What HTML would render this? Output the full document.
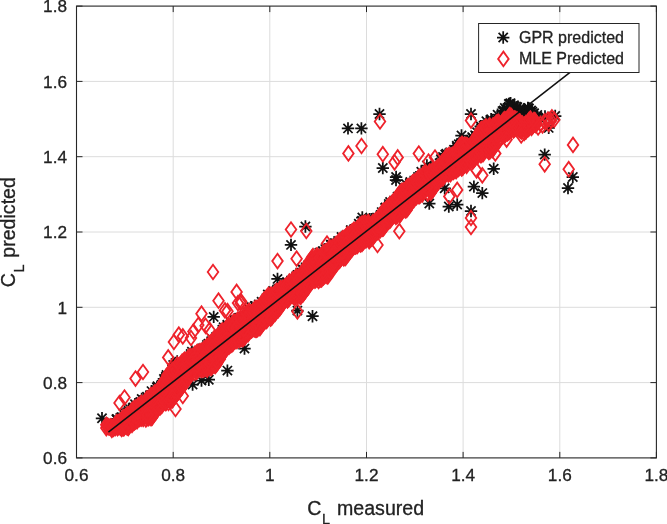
<!DOCTYPE html><html><head><meta charset="utf-8"><title>CL predicted vs measured</title>
<style>html,body{margin:0;padding:0;background:#fff}svg{display:block}text{font-family:"Liberation Sans",sans-serif;fill:#222;stroke:#222;stroke-width:0.3px}</style></head><body>
<svg width="667" height="524" viewBox="0 0 667 524">
<rect width="667" height="524" fill="#fff"/>
<path d="M173.2 6.1V457.9M76.5 382.6H656.4M269.8 6.1V457.9M76.5 307.3H656.4M366.5 6.1V457.9M76.5 232.0H656.4M463.1 6.1V457.9M76.5 156.7H656.4M559.8 6.1V457.9M76.5 81.4H656.4" stroke="#dcdcdc" stroke-width="1" fill="none"/>
<defs>
<path id="d" d="M0-7.3L5.3 0L0 7.3L-5.3 0Z" fill="none" stroke="#ee222b" stroke-width="1.8"/>
<path id="s" d="M0-6.2V6.2M-6.2 0H6.2M-4.6-4.6L4.6 4.6M-4.6 4.6L4.6-4.6" fill="none" stroke="#111" stroke-width="1.75"/>
</defs>
<g><use href="#s" x="102.0" y="418.3"/><use href="#s" x="213.7" y="316.9"/><use href="#s" x="192.6" y="384.6"/><use href="#s" x="201.5" y="380.6"/><use href="#s" x="208.8" y="379.7"/><use href="#s" x="227.4" y="370.6"/><use href="#s" x="244.5" y="348.6"/><use href="#s" x="305.4" y="226.5"/><use href="#s" x="291.0" y="244.9"/><use href="#s" x="277.5" y="278.9"/><use href="#s" x="297.4" y="310.6"/><use href="#s" x="312.5" y="316.2"/><use href="#s" x="396.0" y="180.0"/><use href="#s" x="429.3" y="203.5"/><use href="#s" x="362.3" y="217.5"/><use href="#s" x="471.0" y="114.0"/><use href="#s" x="544.7" y="154.6"/><use href="#s" x="493.7" y="168.8"/><use href="#s" x="473.9" y="186.6"/><use href="#s" x="482.3" y="193.1"/><use href="#s" x="457.2" y="204.5"/><use href="#s" x="448.8" y="206.5"/><use href="#s" x="471.0" y="211.0"/><use href="#s" x="572.8" y="177.0"/><use href="#s" x="568.0" y="188.0"/><use href="#s" x="461.5" y="135.5"/><use href="#s" x="444.7" y="188.3"/><use href="#s" x="426.9" y="165.5"/><use href="#s" x="348.0" y="128.4"/><use href="#s" x="361.4" y="128.4"/><use href="#s" x="379.5" y="114.0"/><use href="#s" x="382.8" y="168.0"/><use href="#s" x="396.1" y="177.0"/><use href="#s" x="116.4" y="419.3"/><use href="#s" x="129.6" y="408.6"/><use href="#s" x="135.0" y="404.3"/><use href="#s" x="151.5" y="391.1"/><use href="#s" x="157.5" y="386.3"/><use href="#s" x="173.2" y="364.9"/><use href="#s" x="227.3" y="324.8"/><use href="#s" x="230.8" y="322.1"/><use href="#s" x="249.0" y="309.0"/><use href="#s" x="251.6" y="307.3"/><use href="#s" x="267.8" y="294.4"/><use href="#s" x="273.0" y="290.9"/><use href="#s" x="281.1" y="286.8"/><use href="#s" x="301.6" y="268.6"/><use href="#s" x="319.4" y="252.7"/><use href="#s" x="322.8" y="251.1"/><use href="#s" x="325.3" y="249.1"/><use href="#s" x="330.9" y="244.8"/><use href="#s" x="350.9" y="230.1"/><use href="#s" x="362.0" y="220.8"/><use href="#s" x="373.0" y="218.9"/><use href="#s" x="381.7" y="212.1"/><use href="#s" x="385.1" y="207.9"/><use href="#s" x="390.1" y="202.0"/><use href="#s" x="410.3" y="181.9"/><use href="#s" x="421.3" y="171.8"/><use href="#s" x="440.9" y="159.3"/><use href="#s" x="446.3" y="153.6"/><use href="#s" x="454.0" y="149.8"/><use href="#s" x="458.8" y="144.2"/><use href="#s" x="467.3" y="140.9"/><use href="#s" x="469.6" y="141.3"/><use href="#s" x="472.2" y="137.1"/><use href="#s" x="477.1" y="132.3"/><use href="#s" x="480.7" y="126.3"/><use href="#s" x="486.4" y="121.2"/><use href="#s" x="491.1" y="119.3"/><use href="#s" x="502.5" y="111.1"/><use href="#s" x="504.8" y="108.0"/><use href="#s" x="510.6" y="103.3"/><use href="#s" x="514.0" y="105.2"/><use href="#s" x="517.3" y="107.1"/><use href="#s" x="520.4" y="109.2"/><use href="#s" x="524.4" y="111.8"/><use href="#s" x="528.2" y="108.4"/><use href="#s" x="534.1" y="113.3"/><use href="#s" x="446.1" y="158.2"/><use href="#s" x="115.4" y="425.2"/><use href="#s" x="125.8" y="413.3"/><use href="#s" x="285.4" y="299.5"/><use href="#s" x="255.1" y="316.0"/><use href="#s" x="323.1" y="259.3"/><use href="#s" x="481.0" y="128.3"/><use href="#s" x="263.0" y="303.9"/><use href="#s" x="202.6" y="348.5"/><use href="#s" x="377.0" y="223.7"/><use href="#s" x="389.4" y="205.1"/><use href="#s" x="256.8" y="308.1"/><use href="#s" x="480.4" y="130.4"/><use href="#s" x="238.5" y="318.2"/><use href="#s" x="359.4" y="227.3"/><use href="#s" x="412.9" y="186.7"/><use href="#s" x="375.8" y="227.5"/><use href="#s" x="525.0" y="110.6"/><use href="#s" x="491.7" y="121.8"/><use href="#s" x="354.4" y="239.2"/><use href="#s" x="109.5" y="427.3"/><use href="#s" x="287.6" y="283.8"/><use href="#s" x="445.2" y="154.6"/><use href="#s" x="293.7" y="278.7"/><use href="#s" x="425.5" y="180.5"/><use href="#s" x="463.4" y="148.2"/><use href="#s" x="378.3" y="231.4"/><use href="#s" x="291.0" y="294.7"/><use href="#s" x="233.3" y="327.1"/><use href="#s" x="304.4" y="277.2"/><use href="#s" x="369.7" y="219.1"/><use href="#s" x="273.1" y="305.1"/><use href="#s" x="301.4" y="274.2"/><use href="#s" x="214.4" y="350.9"/><use href="#s" x="120.8" y="429.3"/><use href="#s" x="230.0" y="330.7"/><use href="#s" x="481.9" y="138.6"/><use href="#s" x="453.4" y="152.7"/><use href="#s" x="164.3" y="389.5"/><use href="#s" x="358.3" y="228.5"/><use href="#s" x="284.9" y="290.6"/><use href="#s" x="486.2" y="134.4"/><use href="#s" x="300.5" y="283.0"/><use href="#s" x="469.0" y="145.9"/><use href="#s" x="188.2" y="362.9"/><use href="#s" x="126.2" y="423.9"/><use href="#s" x="258.3" y="311.4"/><use href="#s" x="155.3" y="403.7"/><use href="#s" x="365.0" y="220.5"/><use href="#s" x="457.6" y="148.3"/><use href="#s" x="262.1" y="316.3"/><use href="#s" x="139.7" y="406.5"/><use href="#s" x="526.5" y="115.0"/><use href="#s" x="364.7" y="220.4"/><use href="#s" x="166.5" y="374.9"/><use href="#s" x="528.4" y="123.0"/><use href="#s" x="268.0" y="299.8"/><use href="#s" x="385.7" y="215.1"/><use href="#s" x="179.9" y="366.6"/><use href="#s" x="151.3" y="408.5"/><use href="#s" x="195.8" y="364.4"/><use href="#s" x="336.8" y="248.9"/><use href="#s" x="272.7" y="306.0"/><use href="#s" x="297.5" y="275.0"/><use href="#s" x="280.3" y="288.1"/><use href="#s" x="241.2" y="318.7"/><use href="#s" x="246.1" y="324.8"/><use href="#s" x="384.2" y="223.3"/><use href="#s" x="281.5" y="301.7"/><use href="#s" x="176.1" y="371.7"/><use href="#s" x="336.2" y="248.6"/><use href="#s" x="519.9" y="124.9"/><use href="#s" x="373.8" y="235.2"/><use href="#s" x="235.8" y="324.0"/><use href="#s" x="234.0" y="330.5"/><use href="#s" x="191.9" y="351.7"/><use href="#s" x="183.7" y="365.6"/><use href="#s" x="208.4" y="343.6"/><use href="#s" x="409.7" y="184.1"/><use href="#s" x="510.8" y="118.9"/><use href="#s" x="520.1" y="123.4"/><use href="#s" x="223.6" y="327.3"/><use href="#s" x="141.7" y="399.0"/><use href="#s" x="262.9" y="306.6"/><use href="#s" x="427.0" y="174.8"/><use href="#s" x="139.4" y="407.8"/><use href="#s" x="411.2" y="191.5"/><use href="#s" x="430.5" y="170.1"/><use href="#s" x="262.8" y="313.2"/><use href="#s" x="487.6" y="125.2"/><use href="#s" x="134.1" y="408.5"/><use href="#s" x="453.5" y="163.0"/><use href="#s" x="165.9" y="376.8"/><use href="#s" x="293.2" y="284.5"/><use href="#s" x="258.8" y="304.6"/><use href="#s" x="279.3" y="296.9"/><use href="#s" x="469.5" y="148.2"/><use href="#s" x="194.3" y="364.3"/><use href="#s" x="308.3" y="265.1"/><use href="#s" x="338.1" y="240.9"/><use href="#s" x="112.2" y="425.1"/><use href="#s" x="147.0" y="396.7"/><use href="#s" x="271.7" y="308.8"/><use href="#s" x="210.7" y="347.2"/><use href="#s" x="188.0" y="367.1"/><use href="#s" x="319.9" y="263.2"/><use href="#s" x="298.2" y="275.6"/><use href="#s" x="278.7" y="296.1"/><use href="#s" x="115.3" y="426.9"/><use href="#s" x="206.5" y="355.0"/><use href="#s" x="531.1" y="110.4"/><use href="#s" x="129.0" y="418.7"/><use href="#s" x="371.6" y="225.9"/><use href="#s" x="358.8" y="237.9"/><use href="#s" x="209.3" y="347.5"/><use href="#s" x="443.0" y="156.9"/><use href="#s" x="415.6" y="181.1"/><use href="#s" x="230.1" y="336.4"/><use href="#s" x="454.7" y="155.6"/><use href="#s" x="440.4" y="162.6"/><use href="#s" x="378.6" y="224.7"/><use href="#s" x="528.4" y="122.3"/><use href="#s" x="340.0" y="242.0"/><use href="#s" x="180.2" y="375.7"/><use href="#s" x="147.7" y="398.8"/><use href="#s" x="358.8" y="223.8"/><use href="#s" x="529.2" y="117.6"/><use href="#s" x="494.3" y="125.3"/><use href="#s" x="406.2" y="184.3"/><use href="#s" x="479.5" y="141.7"/><use href="#s" x="327.0" y="259.0"/><use href="#s" x="200.4" y="351.5"/><use href="#s" x="283.0" y="299.0"/><use href="#s" x="534.3" y="121.7"/><use href="#s" x="164.6" y="387.3"/><use href="#s" x="234.5" y="319.4"/><use href="#s" x="286.4" y="284.1"/><use href="#s" x="211.2" y="341.2"/><use href="#s" x="321.8" y="260.4"/><use href="#s" x="205.8" y="355.9"/><use href="#s" x="220.1" y="334.2"/><use href="#s" x="292.4" y="284.1"/><use href="#s" x="261.5" y="310.7"/><use href="#s" x="517.2" y="114.1"/><use href="#s" x="156.5" y="396.1"/><use href="#s" x="346.6" y="241.5"/><use href="#s" x="217.1" y="341.0"/><use href="#s" x="249.7" y="318.4"/><use href="#s" x="261.6" y="301.8"/><use href="#s" x="163.9" y="378.9"/><use href="#s" x="355.1" y="237.7"/><use href="#s" x="277.9" y="302.6"/><use href="#s" x="489.4" y="128.7"/><use href="#s" x="206.9" y="344.9"/><use href="#s" x="323.6" y="262.0"/><use href="#s" x="275.4" y="301.1"/><use href="#s" x="430.5" y="167.8"/><use href="#s" x="270.1" y="303.2"/><use href="#s" x="470.1" y="142.1"/><use href="#s" x="399.7" y="196.4"/><use href="#s" x="345.7" y="238.9"/><use href="#s" x="222.2" y="333.0"/><use href="#s" x="147.5" y="411.9"/><use href="#s" x="480.5" y="137.3"/><use href="#s" x="163.8" y="391.7"/><use href="#s" x="337.8" y="250.6"/><use href="#s" x="199.6" y="363.1"/><use href="#s" x="116.9" y="425.8"/><use href="#s" x="296.5" y="290.1"/><use href="#s" x="359.2" y="232.5"/><use href="#s" x="298.8" y="283.2"/><use href="#s" x="517.4" y="111.7"/><use href="#s" x="307.2" y="270.1"/><use href="#s" x="362.3" y="234.6"/><use href="#s" x="455.6" y="152.9"/><use href="#s" x="198.3" y="364.3"/><use href="#s" x="173.8" y="377.3"/><use href="#s" x="343.1" y="239.8"/><use href="#s" x="214.2" y="340.2"/><use href="#s" x="368.5" y="228.7"/><use href="#s" x="142.4" y="408.3"/><use href="#s" x="154.6" y="405.4"/><use href="#s" x="493.4" y="122.0"/><use href="#s" x="399.9" y="198.1"/><use href="#s" x="162.5" y="388.4"/><use href="#s" x="533.6" y="119.1"/><use href="#s" x="456.8" y="147.0"/><use href="#s" x="132.7" y="408.0"/><use href="#s" x="448.8" y="166.5"/><use href="#s" x="181.9" y="365.5"/><use href="#s" x="496.0" y="126.3"/><use href="#s" x="286.0" y="299.6"/><use href="#s" x="456.8" y="145.8"/><use href="#s" x="371.4" y="227.8"/><use href="#s" x="370.9" y="228.5"/><use href="#s" x="464.8" y="153.3"/><use href="#s" x="147.1" y="410.7"/><use href="#s" x="319.6" y="266.0"/><use href="#s" x="199.2" y="353.6"/><use href="#s" x="300.5" y="287.4"/><use href="#s" x="534.6" y="123.3"/><use href="#s" x="242.4" y="320.7"/><use href="#s" x="200.0" y="361.0"/><use href="#s" x="388.7" y="216.1"/><use href="#s" x="287.0" y="281.9"/><use href="#s" x="261.5" y="305.7"/><use href="#s" x="276.1" y="294.5"/><use href="#s" x="258.5" y="319.5"/><use href="#s" x="117.7" y="424.0"/><use href="#s" x="356.6" y="230.2"/><use href="#s" x="401.9" y="201.9"/><use href="#s" x="264.0" y="310.0"/><use href="#s" x="238.0" y="324.0"/><use href="#s" x="472.6" y="137.8"/><use href="#s" x="349.7" y="239.3"/><use href="#s" x="450.5" y="154.1"/><use href="#s" x="402.3" y="197.8"/><use href="#s" x="499.7" y="128.4"/><use href="#s" x="474.1" y="143.2"/><use href="#s" x="229.2" y="337.5"/><use href="#s" x="289.1" y="285.2"/><use href="#s" x="255.0" y="321.3"/><use href="#s" x="163.3" y="391.2"/><use href="#s" x="411.5" y="194.3"/><use href="#s" x="393.7" y="212.8"/><use href="#s" x="117.1" y="427.5"/><use href="#s" x="426.2" y="173.1"/><use href="#s" x="296.2" y="276.2"/><use href="#s" x="398.9" y="205.9"/><use href="#s" x="175.4" y="378.3"/><use href="#s" x="309.7" y="273.4"/><use href="#s" x="356.6" y="238.1"/><use href="#s" x="243.3" y="319.8"/><use href="#s" x="278.1" y="304.3"/><use href="#s" x="215.7" y="349.5"/><use href="#s" x="416.8" y="193.4"/><use href="#s" x="490.3" y="129.3"/><use href="#s" x="501.4" y="121.7"/><use href="#s" x="254.8" y="306.0"/><use href="#s" x="193.3" y="353.0"/><use href="#s" x="232.7" y="335.9"/><use href="#s" x="491.4" y="135.5"/><use href="#s" x="408.3" y="193.0"/><use href="#s" x="359.7" y="231.6"/><use href="#s" x="317.1" y="268.2"/><use href="#s" x="160.3" y="396.1"/><use href="#s" x="318.1" y="266.4"/><use href="#s" x="126.9" y="425.0"/><use href="#s" x="166.1" y="377.7"/><use href="#s" x="405.0" y="200.9"/><use href="#s" x="446.4" y="157.9"/><use href="#s" x="496.8" y="124.8"/><use href="#s" x="470.1" y="150.9"/><use href="#s" x="329.9" y="254.5"/><use href="#s" x="447.7" y="167.7"/><use href="#s" x="308.9" y="268.1"/><use href="#s" x="358.4" y="230.0"/><use href="#s" x="151.5" y="405.6"/><use href="#s" x="190.7" y="353.9"/><use href="#s" x="319.3" y="264.8"/><use href="#s" x="370.2" y="230.9"/><use href="#s" x="226.4" y="329.6"/><use href="#s" x="278.5" y="288.6"/><use href="#s" x="514.8" y="106.6"/><use href="#s" x="388.8" y="203.9"/><use href="#s" x="374.3" y="230.0"/><use href="#s" x="117.1" y="420.0"/><use href="#s" x="297.1" y="286.1"/><use href="#s" x="167.1" y="378.6"/><use href="#s" x="335.7" y="248.7"/><use href="#s" x="140.3" y="402.0"/><use href="#s" x="389.2" y="208.9"/><use href="#s" x="371.0" y="223.1"/><use href="#s" x="256.1" y="308.1"/><use href="#s" x="439.5" y="177.0"/><use href="#s" x="516.8" y="107.5"/><use href="#s" x="155.2" y="405.4"/><use href="#s" x="439.1" y="172.5"/><use href="#s" x="127.1" y="417.8"/><use href="#s" x="310.9" y="270.7"/><use href="#s" x="261.1" y="310.9"/><use href="#s" x="117.0" y="428.0"/><use href="#s" x="506.6" y="109.9"/><use href="#s" x="301.2" y="285.6"/><use href="#s" x="500.4" y="124.7"/><use href="#s" x="222.4" y="329.6"/><use href="#s" x="496.5" y="122.2"/><use href="#s" x="368.9" y="225.4"/><use href="#s" x="393.1" y="203.0"/><use href="#s" x="454.7" y="159.1"/><use href="#s" x="472.9" y="142.9"/><use href="#s" x="392.7" y="204.2"/><use href="#s" x="115.6" y="424.2"/><use href="#s" x="286.7" y="285.5"/><use href="#s" x="314.0" y="260.8"/><use href="#s" x="123.3" y="413.7"/><use href="#s" x="310.0" y="268.3"/><use href="#s" x="144.9" y="400.1"/><use href="#s" x="247.3" y="318.2"/><use href="#s" x="142.9" y="414.4"/><use href="#s" x="203.0" y="358.5"/><use href="#s" x="413.6" y="194.2"/><use href="#s" x="376.8" y="225.6"/><use href="#s" x="344.6" y="237.4"/><use href="#s" x="351.3" y="237.2"/><use href="#s" x="477.1" y="136.7"/><use href="#s" x="351.3" y="241.6"/><use href="#s" x="222.9" y="345.6"/><use href="#s" x="475.1" y="135.3"/><use href="#s" x="407.7" y="186.9"/><use href="#s" x="191.2" y="368.4"/><use href="#s" x="492.7" y="122.0"/><use href="#s" x="209.4" y="358.4"/><use href="#s" x="374.0" y="226.5"/><use href="#s" x="380.6" y="214.9"/><use href="#s" x="359.7" y="239.5"/><use href="#s" x="243.2" y="317.9"/><use href="#s" x="390.4" y="213.5"/><use href="#s" x="425.7" y="178.9"/><use href="#s" x="328.5" y="261.3"/><use href="#s" x="491.9" y="120.8"/><use href="#s" x="497.6" y="114.7"/><use href="#s" x="200.0" y="352.1"/><use href="#s" x="390.7" y="205.2"/><use href="#s" x="287.0" y="293.0"/><use href="#s" x="519.3" y="117.2"/><use href="#s" x="353.8" y="229.4"/><use href="#s" x="379.5" y="228.3"/><use href="#s" x="492.6" y="123.4"/><use href="#s" x="142.1" y="402.3"/><use href="#s" x="526.7" y="119.7"/><use href="#s" x="214.1" y="347.9"/><use href="#s" x="413.5" y="189.0"/><use href="#s" x="527.9" y="108.0"/><use href="#s" x="279.7" y="302.7"/><use href="#s" x="268.3" y="300.2"/><use href="#s" x="436.7" y="167.6"/><use href="#s" x="449.5" y="161.2"/><use href="#s" x="505.9" y="116.0"/><use href="#s" x="213.6" y="355.4"/><use href="#s" x="330.9" y="244.7"/><use href="#s" x="267.6" y="308.7"/><use href="#s" x="156.9" y="387.4"/><use href="#s" x="349.0" y="243.1"/><use href="#s" x="418.0" y="177.0"/><use href="#s" x="422.7" y="186.3"/><use href="#s" x="249.8" y="324.8"/><use href="#s" x="186.2" y="360.8"/><use href="#s" x="271.7" y="305.2"/><use href="#s" x="372.9" y="221.6"/><use href="#s" x="483.5" y="132.4"/><use href="#s" x="450.0" y="159.1"/><use href="#s" x="516.8" y="123.7"/><use href="#s" x="153.2" y="403.8"/><use href="#s" x="371.6" y="219.2"/><use href="#s" x="239.1" y="317.6"/><use href="#s" x="149.9" y="396.0"/><use href="#s" x="130.1" y="412.7"/><use href="#s" x="285.9" y="290.7"/><use href="#s" x="406.9" y="192.9"/><use href="#s" x="308.5" y="276.8"/><use href="#s" x="216.1" y="337.0"/><use href="#s" x="342.1" y="246.5"/><use href="#s" x="338.2" y="242.4"/><use href="#s" x="508.0" y="112.7"/><use href="#s" x="385.6" y="207.5"/><use href="#s" x="459.4" y="153.9"/><use href="#s" x="503.7" y="110.5"/><use href="#s" x="151.9" y="404.8"/><use href="#s" x="408.7" y="186.3"/><use href="#s" x="402.6" y="193.1"/><use href="#s" x="181.5" y="373.8"/><use href="#s" x="371.5" y="230.7"/><use href="#s" x="177.2" y="361.5"/><use href="#s" x="467.5" y="151.0"/><use href="#s" x="529.0" y="108.4"/><use href="#s" x="288.9" y="293.3"/><use href="#s" x="416.6" y="180.1"/><use href="#s" x="350.8" y="241.3"/><use href="#s" x="157.5" y="399.4"/><use href="#s" x="508.8" y="103.9"/><use href="#s" x="175.4" y="363.0"/><use href="#s" x="369.7" y="222.7"/><use href="#s" x="460.0" y="146.6"/><use href="#s" x="426.5" y="176.5"/><use href="#s" x="378.1" y="220.6"/><use href="#s" x="172.1" y="368.8"/><use href="#s" x="318.6" y="256.4"/><use href="#s" x="487.5" y="137.5"/><use href="#s" x="436.9" y="174.7"/><use href="#s" x="126.9" y="420.4"/><use href="#s" x="144.1" y="399.9"/><use href="#s" x="285.2" y="299.1"/><use href="#s" x="367.5" y="220.1"/><use href="#s" x="326.7" y="259.6"/><use href="#s" x="384.3" y="222.6"/><use href="#s" x="141.5" y="416.6"/><use href="#s" x="486.3" y="137.5"/><use href="#s" x="235.2" y="334.5"/><use href="#s" x="156.6" y="396.2"/><use href="#s" x="350.4" y="238.4"/><use href="#s" x="323.3" y="265.5"/><use href="#s" x="429.0" y="168.2"/><use href="#s" x="483.6" y="125.7"/><use href="#s" x="493.2" y="134.1"/><use href="#s" x="283.4" y="291.3"/><use href="#s" x="175.0" y="377.7"/><use href="#s" x="496.3" y="126.7"/><use href="#s" x="144.5" y="410.6"/><use href="#s" x="352.5" y="234.7"/><use href="#s" x="454.7" y="157.4"/><use href="#s" x="347.8" y="244.5"/><use href="#s" x="179.9" y="371.7"/><use href="#s" x="128.6" y="410.8"/><use href="#s" x="237.1" y="328.3"/><use href="#s" x="303.0" y="278.3"/><use href="#s" x="166.9" y="383.9"/><use href="#s" x="392.7" y="208.8"/><use href="#s" x="248.3" y="314.7"/><use href="#s" x="223.0" y="341.5"/><use href="#s" x="280.5" y="288.6"/><use href="#s" x="286.1" y="288.3"/><use href="#s" x="266.6" y="300.5"/><use href="#s" x="341.5" y="237.0"/><use href="#s" x="532.3" y="111.8"/><use href="#s" x="243.8" y="317.8"/><use href="#s" x="133.2" y="411.6"/><use href="#s" x="479.9" y="143.0"/><use href="#s" x="209.6" y="349.3"/><use href="#s" x="177.6" y="371.3"/><use href="#s" x="292.3" y="284.4"/><use href="#s" x="410.0" y="195.6"/><use href="#s" x="128.2" y="424.0"/><use href="#s" x="529.9" y="118.5"/><use href="#s" x="436.1" y="167.0"/><use href="#s" x="529.3" y="115.3"/><use href="#s" x="371.8" y="222.4"/><use href="#s" x="396.2" y="199.7"/><use href="#s" x="519.6" y="123.6"/><use href="#s" x="401.9" y="201.5"/><use href="#s" x="511.8" y="113.1"/><use href="#s" x="179.5" y="372.3"/><use href="#s" x="199.1" y="362.0"/><use href="#s" x="232.0" y="337.9"/><use href="#s" x="484.6" y="135.5"/><use href="#s" x="520.2" y="107.9"/><use href="#s" x="507.4" y="118.4"/><use href="#s" x="486.1" y="135.0"/><use href="#s" x="467.9" y="155.0"/><use href="#s" x="316.9" y="269.8"/><use href="#s" x="274.2" y="303.4"/><use href="#s" x="455.5" y="150.1"/><use href="#s" x="177.3" y="377.1"/><use href="#s" x="403.5" y="192.0"/><use href="#s" x="447.5" y="159.4"/><use href="#s" x="417.7" y="183.8"/><use href="#s" x="513.4" y="118.4"/><use href="#s" x="149.0" y="406.7"/><use href="#s" x="350.8" y="230.5"/><use href="#s" x="255.6" y="319.9"/><use href="#s" x="302.9" y="269.4"/><use href="#s" x="328.1" y="248.2"/><use href="#s" x="150.0" y="396.5"/><use href="#s" x="470.0" y="153.6"/><use href="#s" x="429.1" y="182.2"/><use href="#s" x="362.3" y="231.9"/><use href="#s" x="196.2" y="360.9"/><use href="#s" x="286.7" y="285.4"/><use href="#s" x="250.7" y="324.7"/><use href="#s" x="287.3" y="292.9"/><use href="#s" x="431.9" y="171.7"/><use href="#s" x="174.2" y="380.3"/><use href="#s" x="519.8" y="114.5"/><use href="#s" x="419.9" y="182.2"/><use href="#s" x="373.8" y="220.7"/><use href="#s" x="461.0" y="143.0"/><use href="#s" x="430.0" y="184.6"/><use href="#s" x="137.7" y="416.1"/><use href="#s" x="121.8" y="417.1"/><use href="#s" x="387.1" y="218.3"/><use href="#s" x="397.6" y="196.6"/><use href="#s" x="485.3" y="125.4"/><use href="#s" x="308.8" y="276.0"/><use href="#s" x="282.8" y="289.6"/><use href="#s" x="233.5" y="323.5"/><use href="#s" x="509.8" y="103.6"/><use href="#s" x="116.9" y="419.0"/><use href="#s" x="445.8" y="162.3"/><use href="#s" x="332.2" y="247.0"/><use href="#s" x="433.2" y="181.7"/><use href="#s" x="421.6" y="177.5"/><use href="#s" x="330.0" y="249.7"/><use href="#s" x="152.2" y="404.4"/><use href="#s" x="212.5" y="339.1"/><use href="#s" x="196.6" y="353.4"/><use href="#s" x="149.2" y="403.3"/><use href="#s" x="218.4" y="339.9"/><use href="#s" x="548.7" y="127.9"/><use href="#s" x="540.5" y="119.0"/><use href="#s" x="555.2" y="116.0"/><use href="#s" x="537.3" y="114.9"/><use href="#s" x="545.0" y="116.5"/></g>
<path d="M104.9 425.3L106.9 425.3L108.9 425.3L110.9 424.8L112.9 423.8L114.9 422.6L116.9 421.4L118.9 420.2L120.9 418.6L122.9 416.8L124.9 415.0L126.9 413.2L128.9 411.5L130.9 409.9L132.9 408.3L134.9 406.8L136.9 405.3L138.9 403.9L140.9 402.5L142.9 401.1L144.9 399.4L146.9 397.6L148.9 395.8L150.9 394.0L152.9 392.5L154.9 391.1L156.9 389.5L158.9 386.5L160.9 383.1L162.9 379.3L164.9 375.6L166.9 372.7L168.9 371.0L170.9 369.3L172.9 367.5L174.9 365.9L176.9 364.3L178.9 362.7L180.9 361.0L182.9 359.8L184.9 358.6L186.9 357.4L188.9 356.1L190.9 354.9L192.9 353.7L194.9 352.5L196.9 351.3L198.9 350.1L200.9 349.0L202.9 347.8L204.9 346.6L206.9 343.9L208.9 342.7L210.9 341.5L212.9 340.3L214.9 338.4L216.9 336.0L218.9 333.6L220.9 331.2L222.9 329.2L224.9 327.6L226.9 326.0L228.9 324.4L230.9 322.9L232.9 321.4L234.9 320.0L236.9 318.5L238.9 317.1L240.9 315.7L242.9 314.3L244.9 312.9L246.9 311.4L248.9 310.0L250.9 308.5L252.9 307.6L254.9 306.8L256.9 306.0L258.9 305.3L260.9 303.0L262.9 300.4L264.9 297.8L266.9 295.2L268.9 293.8L270.9 292.8L272.9 291.8L274.9 290.8L276.9 289.8L278.9 288.8L280.9 287.8L282.9 286.8L284.9 285.2L286.9 283.2L288.9 281.2L290.9 279.2L292.9 277.4L294.9 275.8L296.9 274.2L298.9 272.6L300.9 270.5L302.9 267.8L304.9 265.1L306.9 262.5L308.9 260.2L310.9 257.9L312.9 255.5L314.9 254.3L316.9 254.0L318.9 253.7L320.9 253.3L322.9 251.9L324.9 250.3L326.9 248.7L328.9 247.1L330.9 245.7L332.9 244.3L334.9 242.9L336.9 241.5L338.9 240.0L340.9 238.4L342.9 236.8L344.9 235.3L346.9 233.8L348.9 232.4L350.9 231.0L352.9 229.6L354.9 227.9L356.9 226.1L358.9 224.3L360.9 222.5L362.9 221.5L364.9 221.1L366.9 220.7L368.9 220.3L370.9 220.0L372.9 219.8L374.9 219.6L376.9 218.8L378.9 215.6L380.9 212.3L382.9 209.0L384.9 206.9L386.9 205.4L388.9 203.8L390.9 202.2L392.9 200.0L394.9 197.7L396.9 195.3L398.9 193.0L400.9 190.9L402.9 188.9L404.9 187.0L406.9 185.0L408.9 183.6L410.9 182.4L412.9 181.1L414.9 179.9L416.9 177.9L418.9 175.5L420.9 175.7L422.9 173.3L424.9 172.1L426.9 171.7L428.9 171.3L430.9 170.9L432.9 169.8L434.9 168.2L436.9 166.6L438.9 165.0L440.9 162.8L442.9 159.9L444.9 157.0L446.9 154.6L448.9 154.3L450.9 154.0L452.9 153.6L454.9 151.8L456.9 148.6L458.9 145.5L460.9 142.4L462.9 142.6L464.9 143.4L466.9 144.2L468.9 144.9L470.9 142.6L472.9 139.4L474.9 136.2L476.9 133.0L478.9 130.9L480.9 129.1L482.9 127.3L484.9 125.5L486.9 124.4L488.9 123.6L490.9 124.7L492.9 123.9L494.9 122.7L496.9 121.3L498.9 119.9L500.9 121.5L502.9 118.9L504.9 116.2L506.9 116.6L508.9 113.9L510.9 114.9L512.9 116.0L514.9 117.1L516.9 118.2L518.9 119.6L520.9 120.9L522.9 122.2L524.9 122.8L526.9 121.0L528.9 119.2L530.9 117.7L532.9 115.2L534.9 118.6L534.9 126.6L532.9 127.8L530.9 129.2L528.9 130.6L526.9 132.0L524.9 133.4L522.9 133.0L520.9 131.8L518.9 130.7L516.9 129.7L514.9 130.7L512.9 131.7L510.9 132.7L508.9 133.7L506.9 135.1L504.9 136.6L502.9 138.1L500.9 139.6L498.9 142.6L496.9 145.6L494.9 148.6L492.9 150.7L490.9 151.5L488.9 152.4L486.9 153.2L484.9 154.1L482.9 155.3L480.9 156.5L478.9 157.6L476.9 158.9L474.9 160.5L472.9 162.1L470.9 163.7L468.9 165.2L466.9 166.5L464.9 167.7L462.9 168.9L460.9 170.1L458.9 171.1L456.9 172.2L454.9 173.2L452.9 174.2L450.9 175.1L448.9 175.9L446.9 176.8L444.9 177.9L442.9 179.1L440.9 180.2L438.9 182.4L436.9 185.6L434.9 188.8L432.9 192.0L430.9 194.0L428.9 194.4L426.9 194.8L424.9 195.2L422.9 195.8L420.9 196.8L418.9 197.8L416.9 198.8L414.9 200.4L412.9 203.0L410.9 205.5L408.9 208.1L406.9 210.4L404.9 212.0L402.9 213.6L400.9 215.2L398.9 216.7L396.9 217.5L394.9 218.3L392.9 219.1L390.9 220.2L388.9 222.5L386.9 224.9L384.9 227.3L382.9 229.5L380.9 231.1L378.9 232.7L376.9 234.3L374.9 236.5L372.9 239.2L370.9 241.9L368.9 243.5L366.9 243.9L364.9 244.3L362.9 244.7L360.9 245.4L358.9 246.7L356.9 247.9L354.9 249.1L352.9 250.7L350.9 252.9L348.9 255.1L346.9 257.3L344.9 259.1L342.9 260.3L340.9 261.5L338.9 262.7L336.9 264.4L334.9 267.6L332.9 270.8L330.9 274.0L328.9 276.7L326.9 278.0L324.9 279.2L322.9 280.4L320.9 281.4L318.9 281.6L316.9 281.7L314.9 281.9L312.9 283.1L310.9 285.6L308.9 288.0L306.9 290.5L304.9 292.8L302.9 295.0L300.9 297.2L298.9 298.4L296.9 298.6L294.9 298.7L292.9 298.9L290.9 299.6L288.9 300.8L286.9 302.0L284.9 303.3L282.9 305.0L280.9 307.7L278.9 310.3L276.9 312.8L274.9 315.3L272.9 317.8L270.9 319.5L268.9 320.8L266.9 322.3L264.9 324.3L262.9 326.3L260.9 328.3L258.9 330.0L256.9 330.4L254.9 330.8L252.9 331.2L250.9 331.9L248.9 334.3L246.9 336.7L244.9 339.1L242.9 341.4L240.9 341.9L238.9 342.4L236.9 342.9L234.9 344.1L232.9 345.5L230.9 346.9L228.9 348.6L226.9 350.6L224.9 352.7L222.9 357.3L220.9 360.8L218.9 363.0L216.9 365.2L214.9 367.4L212.9 368.9L210.9 369.5L208.9 370.1L206.9 370.7L204.9 371.2L202.9 371.4L200.9 371.6L198.9 371.8L196.9 372.3L194.9 374.0L192.9 375.7L190.9 377.3L188.9 379.0L186.9 381.2L184.9 384.2L182.9 387.2L180.9 390.2L178.9 392.9L176.9 395.6L174.9 398.3L172.9 400.5L170.9 402.2L168.9 403.9L166.9 405.7L164.9 406.6L162.9 407.4L160.9 408.1L158.9 409.8L156.9 412.5L154.9 415.2L152.9 417.9L150.9 419.6L148.9 420.0L146.9 420.4L144.9 420.8L142.9 421.3L140.9 422.1L138.9 422.9L136.9 423.7L134.9 424.6L132.9 425.8L130.9 427.0L128.9 428.2L126.9 429.1L124.9 429.3L122.9 429.5L120.9 429.7L118.9 429.9L116.9 429.7L114.9 429.5L112.9 429.3L110.9 429.0L108.9 428.6L106.9 428.3L104.9 427.9Z" fill="#ee222b"/>
<g><use href="#d" x="106.3" y="428.1"/><use href="#d" x="111.8" y="429.8"/><use href="#d" x="117.5" y="423.9"/><use href="#d" x="121.3" y="423.5"/><use href="#d" x="125.6" y="416.1"/><use href="#d" x="130.8" y="412.8"/><use href="#d" x="135.4" y="411.7"/><use href="#d" x="138.1" y="407.2"/><use href="#d" x="141.3" y="404.0"/><use href="#d" x="145.5" y="403.2"/><use href="#d" x="150.0" y="398.1"/><use href="#d" x="155.9" y="393.2"/><use href="#d" x="160.5" y="387.1"/><use href="#d" x="165.1" y="380.4"/><use href="#d" x="167.2" y="376.8"/><use href="#d" x="169.5" y="372.3"/><use href="#d" x="172.2" y="369.9"/><use href="#d" x="176.6" y="369.8"/><use href="#d" x="180.5" y="364.2"/><use href="#d" x="184.8" y="360.4"/><use href="#d" x="188.9" y="360.4"/><use href="#d" x="192.1" y="356.0"/><use href="#d" x="196.7" y="354.2"/><use href="#d" x="201.4" y="351.5"/><use href="#d" x="207.4" y="348.9"/><use href="#d" x="209.7" y="344.5"/><use href="#d" x="212.9" y="342.1"/><use href="#d" x="217.0" y="337.7"/><use href="#d" x="219.3" y="338.4"/><use href="#d" x="221.7" y="332.0"/><use href="#d" x="227.1" y="328.7"/><use href="#d" x="229.4" y="325.8"/><use href="#d" x="234.8" y="321.9"/><use href="#d" x="237.6" y="319.8"/><use href="#d" x="241.5" y="319.6"/><use href="#d" x="245.1" y="314.6"/><use href="#d" x="249.3" y="311.5"/><use href="#d" x="254.5" y="309.3"/><use href="#d" x="257.8" y="308.0"/><use href="#d" x="261.1" y="305.5"/><use href="#d" x="266.2" y="297.9"/><use href="#d" x="268.7" y="298.2"/><use href="#d" x="271.1" y="294.5"/><use href="#d" x="275.0" y="293.6"/><use href="#d" x="277.7" y="292.7"/><use href="#d" x="280.4" y="291.4"/><use href="#d" x="283.2" y="291.0"/><use href="#d" x="288.3" y="284.6"/><use href="#d" x="292.8" y="279.3"/><use href="#d" x="296.4" y="276.4"/><use href="#d" x="298.4" y="278.3"/><use href="#d" x="304.3" y="271.2"/><use href="#d" x="308.7" y="262.3"/><use href="#d" x="311.5" y="259.9"/><use href="#d" x="317.5" y="257.2"/><use href="#d" x="322.1" y="254.4"/><use href="#d" x="324.2" y="252.7"/><use href="#d" x="327.1" y="250.9"/><use href="#d" x="329.1" y="250.2"/><use href="#d" x="332.5" y="246.9"/><use href="#d" x="336.0" y="244.0"/><use href="#d" x="338.4" y="243.7"/><use href="#d" x="342.9" y="238.6"/><use href="#d" x="347.3" y="235.8"/><use href="#d" x="351.8" y="232.1"/><use href="#d" x="357.6" y="228.3"/><use href="#d" x="363.0" y="223.3"/><use href="#d" x="368.4" y="222.2"/><use href="#d" x="372.9" y="222.1"/><use href="#d" x="378.6" y="221.4"/><use href="#d" x="383.0" y="214.1"/><use href="#d" x="385.8" y="210.5"/><use href="#d" x="390.3" y="206.0"/><use href="#d" x="393.1" y="202.6"/><use href="#d" x="398.6" y="196.6"/><use href="#d" x="400.9" y="192.7"/><use href="#d" x="403.3" y="190.3"/><use href="#d" x="407.4" y="186.8"/><use href="#d" x="410.3" y="187.0"/><use href="#d" x="413.9" y="183.3"/><use href="#d" x="419.2" y="178.5"/><use href="#d" x="423.2" y="176.2"/><use href="#d" x="425.9" y="176.2"/><use href="#d" x="431.8" y="172.5"/><use href="#d" x="434.7" y="171.7"/><use href="#d" x="439.3" y="168.0"/><use href="#d" x="443.8" y="160.9"/><use href="#d" x="446.6" y="156.5"/><use href="#d" x="451.6" y="155.7"/><use href="#d" x="454.7" y="154.9"/><use href="#d" x="457.7" y="149.2"/><use href="#d" x="460.4" y="146.0"/><use href="#d" x="464.5" y="145.0"/><use href="#d" x="466.9" y="145.9"/><use href="#d" x="472.4" y="142.4"/><use href="#d" x="477.1" y="137.5"/><use href="#d" x="481.2" y="130.7"/><use href="#d" x="485.5" y="126.8"/><use href="#d" x="489.4" y="125.6"/><use href="#d" x="494.2" y="125.0"/><use href="#d" x="496.3" y="126.0"/><use href="#d" x="498.6" y="121.9"/><use href="#d" x="503.5" y="120.4"/><use href="#d" x="506.1" y="119.5"/><use href="#d" x="508.4" y="117.9"/><use href="#d" x="511.8" y="117.2"/><use href="#d" x="517.4" y="122.9"/><use href="#d" x="522.4" y="123.7"/><use href="#d" x="527.6" y="122.7"/><use href="#d" x="531.0" y="122.1"/><use href="#d" x="534.9" y="120.4"/><use href="#d" x="106.3" y="424.8"/><use href="#d" x="110.9" y="426.3"/><use href="#d" x="115.3" y="426.2"/><use href="#d" x="117.6" y="427.9"/><use href="#d" x="122.1" y="427.3"/><use href="#d" x="127.6" y="424.7"/><use href="#d" x="131.0" y="422.7"/><use href="#d" x="135.7" y="421.3"/><use href="#d" x="139.5" y="417.4"/><use href="#d" x="143.7" y="417.7"/><use href="#d" x="148.7" y="418.2"/><use href="#d" x="151.9" y="417.4"/><use href="#d" x="155.8" y="412.1"/><use href="#d" x="161.7" y="406.0"/><use href="#d" x="165.7" y="403.0"/><use href="#d" x="170.3" y="399.9"/><use href="#d" x="173.3" y="398.3"/><use href="#d" x="176.8" y="393.9"/><use href="#d" x="181.5" y="387.5"/><use href="#d" x="185.6" y="377.9"/><use href="#d" x="191.2" y="372.8"/><use href="#d" x="196.9" y="369.5"/><use href="#d" x="202.5" y="369.1"/><use href="#d" x="206.1" y="368.7"/><use href="#d" x="208.9" y="367.3"/><use href="#d" x="214.1" y="362.9"/><use href="#d" x="219.8" y="359.2"/><use href="#d" x="223.3" y="352.6"/><use href="#d" x="229.0" y="346.7"/><use href="#d" x="231.5" y="343.7"/><use href="#d" x="234.9" y="338.8"/><use href="#d" x="237.1" y="341.0"/><use href="#d" x="242.9" y="339.1"/><use href="#d" x="248.2" y="333.3"/><use href="#d" x="252.0" y="329.0"/><use href="#d" x="257.7" y="324.9"/><use href="#d" x="261.4" y="323.5"/><use href="#d" x="265.4" y="319.5"/><use href="#d" x="268.7" y="315.7"/><use href="#d" x="274.1" y="313.1"/><use href="#d" x="277.9" y="309.8"/><use href="#d" x="283.2" y="302.4"/><use href="#d" x="288.7" y="299.1"/><use href="#d" x="293.4" y="296.6"/><use href="#d" x="297.7" y="296.2"/><use href="#d" x="302.3" y="292.4"/><use href="#d" x="304.3" y="291.6"/><use href="#d" x="308.0" y="287.4"/><use href="#d" x="310.1" y="281.3"/><use href="#d" x="313.1" y="277.5"/><use href="#d" x="315.7" y="280.0"/><use href="#d" x="321.6" y="279.3"/><use href="#d" x="325.4" y="274.5"/><use href="#d" x="329.6" y="271.3"/><use href="#d" x="334.8" y="266.0"/><use href="#d" x="339.5" y="260.5"/><use href="#d" x="344.8" y="256.9"/><use href="#d" x="347.5" y="254.8"/><use href="#d" x="352.6" y="247.8"/><use href="#d" x="357.4" y="245.8"/><use href="#d" x="360.3" y="240.5"/><use href="#d" x="363.7" y="240.2"/><use href="#d" x="369.5" y="240.1"/><use href="#d" x="373.9" y="232.5"/><use href="#d" x="376.6" y="229.2"/><use href="#d" x="381.8" y="228.6"/><use href="#d" x="384.1" y="224.0"/><use href="#d" x="387.7" y="221.2"/><use href="#d" x="391.5" y="215.4"/><use href="#d" x="397.0" y="215.6"/><use href="#d" x="400.5" y="212.2"/><use href="#d" x="405.1" y="208.5"/><use href="#d" x="410.3" y="204.0"/><use href="#d" x="414.2" y="197.0"/><use href="#d" x="420.1" y="195.4"/><use href="#d" x="425.0" y="189.8"/><use href="#d" x="430.2" y="189.8"/><use href="#d" x="432.7" y="190.1"/><use href="#d" x="438.3" y="181.6"/><use href="#d" x="444.2" y="175.0"/><use href="#d" x="450.1" y="173.1"/><use href="#d" x="453.1" y="169.8"/><use href="#d" x="458.6" y="169.0"/><use href="#d" x="462.6" y="167.3"/><use href="#d" x="466.3" y="163.5"/><use href="#d" x="470.0" y="162.1"/><use href="#d" x="474.0" y="159.4"/><use href="#d" x="476.9" y="153.6"/><use href="#d" x="479.1" y="152.2"/><use href="#d" x="481.3" y="152.9"/><use href="#d" x="484.6" y="149.0"/><use href="#d" x="490.3" y="149.0"/><use href="#d" x="492.9" y="147.4"/><use href="#d" x="498.5" y="140.0"/><use href="#d" x="503.8" y="133.1"/><use href="#d" x="507.6" y="131.9"/><use href="#d" x="511.9" y="127.9"/><use href="#d" x="514.2" y="129.2"/><use href="#d" x="518.0" y="126.9"/><use href="#d" x="521.2" y="127.7"/><use href="#d" x="525.4" y="131.2"/><use href="#d" x="529.5" y="124.8"/><use href="#d" x="535.1" y="124.2"/><use href="#d" x="346.2" y="246.3"/><use href="#d" x="358.6" y="235.4"/><use href="#d" x="347.5" y="241.8"/><use href="#d" x="223.6" y="341.0"/><use href="#d" x="158.3" y="396.6"/><use href="#d" x="318.9" y="260.0"/><use href="#d" x="187.9" y="372.7"/><use href="#d" x="189.1" y="357.4"/><use href="#d" x="415.7" y="183.4"/><use href="#d" x="263.2" y="317.8"/><use href="#d" x="148.1" y="417.0"/><use href="#d" x="156.3" y="402.1"/><use href="#d" x="215.1" y="339.7"/><use href="#d" x="343.6" y="245.7"/><use href="#d" x="272.6" y="301.6"/><use href="#d" x="193.8" y="368.7"/><use href="#d" x="393.3" y="210.2"/><use href="#d" x="491.1" y="142.6"/><use href="#d" x="493.7" y="126.1"/><use href="#d" x="514.8" y="118.8"/><use href="#d" x="209.9" y="365.4"/><use href="#d" x="482.4" y="138.4"/><use href="#d" x="285.0" y="300.1"/><use href="#d" x="332.3" y="268.8"/><use href="#d" x="331.0" y="267.6"/><use href="#d" x="353.4" y="240.1"/><use href="#d" x="184.7" y="359.8"/><use href="#d" x="312.3" y="281.1"/><use href="#d" x="250.1" y="319.7"/><use href="#d" x="336.7" y="250.6"/><use href="#d" x="183.2" y="371.3"/><use href="#d" x="439.7" y="169.8"/><use href="#d" x="389.2" y="209.8"/><use href="#d" x="375.5" y="227.8"/><use href="#d" x="474.3" y="145.5"/><use href="#d" x="419.2" y="196.2"/><use href="#d" x="451.6" y="161.0"/><use href="#d" x="257.0" y="317.0"/><use href="#d" x="393.5" y="213.3"/><use href="#d" x="406.0" y="192.1"/><use href="#d" x="403.1" y="203.8"/><use href="#d" x="344.9" y="243.0"/><use href="#d" x="422.2" y="194.6"/><use href="#d" x="382.7" y="227.6"/><use href="#d" x="217.8" y="345.2"/><use href="#d" x="352.7" y="240.6"/><use href="#d" x="173.4" y="382.2"/><use href="#d" x="177.6" y="378.9"/><use href="#d" x="534.3" y="120.5"/><use href="#d" x="342.0" y="252.9"/><use href="#d" x="267.9" y="299.0"/><use href="#d" x="401.0" y="205.3"/><use href="#d" x="230.2" y="343.6"/><use href="#d" x="171.9" y="396.8"/><use href="#d" x="297.3" y="285.3"/><use href="#d" x="432.1" y="180.8"/><use href="#d" x="386.8" y="213.7"/><use href="#d" x="303.4" y="287.7"/><use href="#d" x="309.3" y="263.7"/><use href="#d" x="367.5" y="229.2"/><use href="#d" x="457.5" y="161.0"/><use href="#d" x="437.4" y="167.0"/><use href="#d" x="460.4" y="161.9"/><use href="#d" x="265.0" y="301.7"/><use href="#d" x="414.7" y="192.6"/><use href="#d" x="371.8" y="234.9"/><use href="#d" x="224.4" y="337.9"/><use href="#d" x="139.6" y="418.8"/><use href="#d" x="353.0" y="244.7"/><use href="#d" x="271.4" y="305.0"/><use href="#d" x="196.7" y="356.5"/><use href="#d" x="471.8" y="156.5"/><use href="#d" x="294.9" y="278.3"/><use href="#d" x="472.1" y="146.9"/><use href="#d" x="249.4" y="323.4"/><use href="#d" x="296.4" y="281.6"/><use href="#d" x="359.2" y="234.7"/><use href="#d" x="414.9" y="183.2"/><use href="#d" x="197.9" y="367.0"/><use href="#d" x="137.5" y="407.8"/><use href="#d" x="433.1" y="187.7"/><use href="#d" x="264.3" y="320.8"/><use href="#d" x="425.9" y="186.0"/><use href="#d" x="519.7" y="124.1"/><use href="#d" x="469.0" y="148.4"/><use href="#d" x="245.9" y="321.1"/><use href="#d" x="214.0" y="347.9"/><use href="#d" x="267.9" y="302.2"/><use href="#d" x="281.7" y="293.3"/><use href="#d" x="189.5" y="369.5"/><use href="#d" x="466.2" y="156.9"/><use href="#d" x="484.3" y="142.9"/><use href="#d" x="181.1" y="386.6"/><use href="#d" x="504.8" y="119.1"/><use href="#d" x="110.1" y="427.1"/><use href="#d" x="350.0" y="245.2"/><use href="#d" x="138.8" y="417.9"/><use href="#d" x="166.0" y="401.3"/><use href="#d" x="398.2" y="195.9"/><use href="#d" x="201.2" y="369.9"/><use href="#d" x="339.6" y="260.6"/><use href="#d" x="281.2" y="292.0"/><use href="#d" x="326.8" y="265.0"/><use href="#d" x="431.2" y="190.1"/><use href="#d" x="520.4" y="123.8"/><use href="#d" x="479.6" y="150.5"/><use href="#d" x="492.2" y="150.1"/><use href="#d" x="340.7" y="257.9"/><use href="#d" x="468.6" y="152.4"/><use href="#d" x="193.8" y="361.3"/><use href="#d" x="127.1" y="415.3"/><use href="#d" x="152.7" y="411.3"/><use href="#d" x="128.6" y="418.8"/><use href="#d" x="184.7" y="360.3"/><use href="#d" x="208.1" y="365.7"/><use href="#d" x="184.9" y="362.7"/><use href="#d" x="179.2" y="388.8"/><use href="#d" x="243.2" y="329.7"/><use href="#d" x="475.5" y="146.9"/><use href="#d" x="520.1" y="121.9"/><use href="#d" x="321.7" y="255.2"/><use href="#d" x="468.2" y="151.1"/><use href="#d" x="342.4" y="249.5"/><use href="#d" x="402.1" y="191.9"/><use href="#d" x="270.7" y="318.4"/><use href="#d" x="427.7" y="187.0"/><use href="#d" x="247.8" y="313.8"/><use href="#d" x="499.4" y="132.7"/><use href="#d" x="222.4" y="345.5"/><use href="#d" x="169.1" y="399.9"/><use href="#d" x="488.8" y="151.8"/><use href="#d" x="137.8" y="406.5"/><use href="#d" x="320.6" y="266.1"/><use href="#d" x="493.9" y="128.8"/><use href="#d" x="462.7" y="152.4"/><use href="#d" x="479.7" y="131.7"/><use href="#d" x="349.6" y="244.0"/><use href="#d" x="172.3" y="400.1"/><use href="#d" x="243.0" y="320.0"/><use href="#d" x="134.8" y="409.5"/><use href="#d" x="314.6" y="277.1"/><use href="#d" x="265.2" y="318.3"/><use href="#d" x="148.5" y="404.1"/><use href="#d" x="481.2" y="148.9"/><use href="#d" x="426.2" y="173.6"/><use href="#d" x="359.2" y="233.8"/><use href="#d" x="383.0" y="211.8"/><use href="#d" x="272.7" y="306.6"/><use href="#d" x="237.0" y="324.4"/><use href="#d" x="280.2" y="304.2"/><use href="#d" x="217.8" y="336.6"/><use href="#d" x="436.1" y="171.4"/><use href="#d" x="534.2" y="123.7"/><use href="#d" x="432.6" y="175.2"/><use href="#d" x="411.4" y="201.2"/><use href="#d" x="182.6" y="369.8"/><use href="#d" x="484.5" y="144.0"/><use href="#d" x="141.3" y="402.8"/><use href="#d" x="523.0" y="125.9"/><use href="#d" x="335.0" y="260.8"/><use href="#d" x="277.3" y="294.8"/><use href="#d" x="284.1" y="301.2"/><use href="#d" x="403.3" y="205.1"/><use href="#d" x="257.2" y="323.9"/><use href="#d" x="148.7" y="403.3"/><use href="#d" x="334.0" y="267.7"/><use href="#d" x="479.2" y="148.6"/><use href="#d" x="172.7" y="396.7"/><use href="#d" x="514.9" y="125.2"/><use href="#d" x="261.9" y="314.5"/><use href="#d" x="165.1" y="400.6"/><use href="#d" x="138.2" y="405.4"/><use href="#d" x="364.9" y="240.0"/><use href="#d" x="265.9" y="308.4"/><use href="#d" x="349.7" y="245.3"/><use href="#d" x="357.4" y="228.1"/><use href="#d" x="475.6" y="151.4"/><use href="#d" x="210.6" y="358.7"/><use href="#d" x="481.7" y="129.1"/><use href="#d" x="402.5" y="194.2"/><use href="#d" x="408.4" y="205.5"/><use href="#d" x="275.3" y="306.2"/><use href="#d" x="191.6" y="364.5"/><use href="#d" x="165.6" y="385.0"/><use href="#d" x="338.8" y="242.8"/><use href="#d" x="361.0" y="227.7"/><use href="#d" x="315.9" y="264.3"/><use href="#d" x="386.6" y="221.8"/><use href="#d" x="448.3" y="174.3"/><use href="#d" x="287.9" y="289.6"/><use href="#d" x="341.6" y="250.4"/><use href="#d" x="436.3" y="180.1"/><use href="#d" x="445.5" y="160.0"/><use href="#d" x="157.1" y="398.8"/><use href="#d" x="330.9" y="255.4"/><use href="#d" x="123.8" y="428.1"/><use href="#d" x="341.8" y="239.7"/><use href="#d" x="240.7" y="324.7"/><use href="#d" x="201.8" y="369.1"/><use href="#d" x="156.8" y="402.6"/><use href="#d" x="212.0" y="346.5"/><use href="#d" x="282.5" y="291.6"/><use href="#d" x="241.4" y="328.5"/><use href="#d" x="317.1" y="255.6"/><use href="#d" x="485.0" y="133.5"/><use href="#d" x="192.7" y="369.6"/><use href="#d" x="433.5" y="173.6"/><use href="#d" x="202.5" y="352.5"/><use href="#d" x="183.1" y="362.4"/><use href="#d" x="405.3" y="210.5"/><use href="#d" x="271.1" y="312.6"/><use href="#d" x="506.4" y="129.3"/><use href="#d" x="205.1" y="350.1"/><use href="#d" x="525.8" y="131.5"/><use href="#d" x="227.1" y="343.5"/><use href="#d" x="302.3" y="283.3"/><use href="#d" x="375.5" y="221.1"/><use href="#d" x="215.2" y="365.6"/><use href="#d" x="140.0" y="405.6"/><use href="#d" x="447.2" y="156.5"/><use href="#d" x="228.2" y="339.0"/><use href="#d" x="312.1" y="280.8"/><use href="#d" x="329.7" y="247.4"/><use href="#d" x="355.4" y="243.2"/><use href="#d" x="265.2" y="317.1"/><use href="#d" x="459.8" y="158.1"/><use href="#d" x="414.4" y="191.4"/><use href="#d" x="302.3" y="293.3"/><use href="#d" x="461.4" y="168.0"/><use href="#d" x="208.3" y="356.2"/><use href="#d" x="201.6" y="363.0"/><use href="#d" x="374.2" y="235.4"/><use href="#d" x="108.1" y="426.8"/><use href="#d" x="299.7" y="282.8"/><use href="#d" x="361.4" y="235.2"/><use href="#d" x="463.7" y="145.3"/><use href="#d" x="167.1" y="380.1"/><use href="#d" x="385.4" y="217.5"/><use href="#d" x="221.6" y="349.1"/><use href="#d" x="178.8" y="367.1"/><use href="#d" x="173.3" y="392.5"/><use href="#d" x="481.8" y="154.0"/><use href="#d" x="128.0" y="417.8"/><use href="#d" x="267.4" y="296.5"/><use href="#d" x="324.9" y="275.9"/><use href="#d" x="309.2" y="284.0"/><use href="#d" x="280.5" y="291.2"/><use href="#d" x="450.7" y="172.8"/><use href="#d" x="205.6" y="348.0"/><use href="#d" x="353.5" y="230.5"/><use href="#d" x="267.2" y="301.7"/><use href="#d" x="118.1" y="423.0"/><use href="#d" x="257.6" y="325.5"/><use href="#d" x="497.2" y="136.6"/><use href="#d" x="507.3" y="124.3"/><use href="#d" x="275.1" y="313.7"/><use href="#d" x="198.9" y="355.5"/><use href="#d" x="184.3" y="374.0"/><use href="#d" x="175.2" y="368.0"/><use href="#d" x="198.5" y="359.9"/><use href="#d" x="241.7" y="326.3"/><use href="#d" x="496.4" y="122.6"/><use href="#d" x="417.6" y="182.9"/><use href="#d" x="183.6" y="363.1"/><use href="#d" x="428.6" y="174.3"/><use href="#d" x="530.4" y="120.1"/><use href="#d" x="451.8" y="172.0"/><use href="#d" x="247.9" y="318.6"/><use href="#d" x="249.4" y="332.0"/><use href="#d" x="281.0" y="288.8"/><use href="#d" x="243.4" y="324.3"/><use href="#d" x="424.7" y="174.8"/><use href="#d" x="433.3" y="186.4"/><use href="#d" x="167.5" y="374.8"/><use href="#d" x="228.7" y="344.8"/><use href="#d" x="286.2" y="289.5"/><use href="#d" x="497.9" y="122.1"/><use href="#d" x="234.1" y="326.7"/><use href="#d" x="199.3" y="367.6"/><use href="#d" x="499.0" y="123.7"/><use href="#d" x="296.5" y="282.5"/><use href="#d" x="127.5" y="417.3"/><use href="#d" x="250.7" y="320.2"/><use href="#d" x="284.9" y="293.5"/><use href="#d" x="176.5" y="387.9"/><use href="#d" x="257.0" y="315.2"/><use href="#d" x="169.2" y="391.1"/><use href="#d" x="422.3" y="187.0"/><use href="#d" x="279.8" y="294.0"/><use href="#d" x="128.8" y="417.0"/><use href="#d" x="125.0" y="422.0"/><use href="#d" x="369.2" y="230.7"/><use href="#d" x="249.5" y="312.2"/><use href="#d" x="509.8" y="125.9"/><use href="#d" x="220.3" y="354.0"/><use href="#d" x="185.4" y="369.7"/><use href="#d" x="266.6" y="312.2"/><use href="#d" x="388.2" y="217.8"/><use href="#d" x="288.8" y="288.3"/><use href="#d" x="504.2" y="123.1"/><use href="#d" x="162.3" y="394.3"/><use href="#d" x="241.7" y="322.7"/><use href="#d" x="188.4" y="357.9"/><use href="#d" x="412.5" y="182.8"/><use href="#d" x="280.9" y="288.9"/><use href="#d" x="326.8" y="269.9"/><use href="#d" x="351.8" y="245.5"/><use href="#d" x="243.9" y="335.7"/><use href="#d" x="419.5" y="193.0"/><use href="#d" x="173.2" y="389.4"/><use href="#d" x="325.4" y="267.1"/><use href="#d" x="269.7" y="298.1"/><use href="#d" x="444.1" y="169.4"/><use href="#d" x="208.8" y="346.1"/><use href="#d" x="146.9" y="416.5"/><use href="#d" x="151.7" y="404.4"/><use href="#d" x="454.8" y="162.0"/><use href="#d" x="216.6" y="351.3"/><use href="#d" x="466.0" y="151.4"/><use href="#d" x="429.0" y="173.6"/><use href="#d" x="428.8" y="176.4"/><use href="#d" x="253.3" y="329.0"/><use href="#d" x="360.7" y="231.2"/><use href="#d" x="424.8" y="188.2"/><use href="#d" x="481.8" y="154.6"/><use href="#d" x="157.5" y="395.7"/><use href="#d" x="407.5" y="186.5"/><use href="#d" x="415.9" y="186.5"/><use href="#d" x="390.1" y="208.6"/><use href="#d" x="231.4" y="343.4"/><use href="#d" x="349.3" y="242.8"/><use href="#d" x="271.5" y="298.0"/><use href="#d" x="230.3" y="331.2"/><use href="#d" x="383.8" y="227.4"/><use href="#d" x="418.9" y="188.4"/><use href="#d" x="387.3" y="207.2"/><use href="#d" x="204.5" y="358.3"/><use href="#d" x="268.0" y="297.9"/><use href="#d" x="510.2" y="117.5"/><use href="#d" x="322.5" y="262.8"/><use href="#d" x="470.8" y="149.6"/><use href="#d" x="126.4" y="422.9"/><use href="#d" x="401.8" y="207.0"/><use href="#d" x="264.9" y="321.4"/><use href="#d" x="242.4" y="328.7"/><use href="#d" x="464.0" y="164.8"/><use href="#d" x="480.3" y="154.2"/><use href="#d" x="424.0" y="174.5"/><use href="#d" x="365.0" y="222.5"/><use href="#d" x="278.4" y="295.3"/><use href="#d" x="267.5" y="313.8"/><use href="#d" x="262.6" y="304.9"/><use href="#d" x="515.9" y="119.2"/><use href="#d" x="143.2" y="405.4"/><use href="#d" x="441.5" y="172.4"/><use href="#d" x="260.9" y="312.9"/><use href="#d" x="285.3" y="288.2"/><use href="#d" x="247.4" y="333.5"/><use href="#d" x="200.8" y="356.9"/><use href="#d" x="225.5" y="346.4"/><use href="#d" x="184.2" y="366.4"/><use href="#d" x="391.6" y="206.7"/><use href="#d" x="493.5" y="142.3"/><use href="#d" x="331.9" y="261.4"/><use href="#d" x="416.9" y="186.7"/><use href="#d" x="405.7" y="195.6"/><use href="#d" x="276.7" y="291.5"/><use href="#d" x="376.0" y="229.4"/><use href="#d" x="388.2" y="212.1"/><use href="#d" x="372.6" y="232.9"/><use href="#d" x="439.1" y="167.6"/><use href="#d" x="325.6" y="252.8"/><use href="#d" x="486.1" y="145.5"/><use href="#d" x="466.5" y="155.8"/><use href="#d" x="499.8" y="138.8"/><use href="#d" x="215.1" y="365.8"/><use href="#d" x="308.6" y="276.0"/><use href="#d" x="228.4" y="342.4"/><use href="#d" x="133.7" y="418.3"/><use href="#d" x="461.7" y="155.5"/><use href="#d" x="211.0" y="368.1"/><use href="#d" x="492.9" y="148.4"/><use href="#d" x="116.8" y="422.1"/><use href="#d" x="194.9" y="367.8"/><use href="#d" x="502.8" y="136.2"/><use href="#d" x="190.5" y="372.6"/><use href="#d" x="256.0" y="311.4"/><use href="#d" x="389.3" y="205.5"/><use href="#d" x="377.1" y="232.1"/><use href="#d" x="418.7" y="185.6"/><use href="#d" x="532.4" y="124.3"/><use href="#d" x="264.2" y="299.6"/><use href="#d" x="438.3" y="170.0"/><use href="#d" x="242.5" y="324.3"/><use href="#d" x="167.1" y="395.1"/><use href="#d" x="287.9" y="290.4"/><use href="#d" x="259.1" y="325.5"/><use href="#d" x="207.9" y="360.1"/><use href="#d" x="410.9" y="192.3"/><use href="#d" x="529.0" y="121.9"/><use href="#d" x="441.5" y="174.1"/><use href="#d" x="292.5" y="280.6"/><use href="#d" x="234.5" y="339.7"/><use href="#d" x="408.8" y="186.1"/><use href="#d" x="511.4" y="116.0"/><use href="#d" x="293.2" y="282.4"/><use href="#d" x="371.4" y="232.2"/><use href="#d" x="140.5" y="407.9"/><use href="#d" x="272.0" y="314.6"/><use href="#d" x="407.5" y="191.0"/><use href="#d" x="315.5" y="262.3"/><use href="#d" x="313.5" y="260.9"/><use href="#d" x="408.2" y="200.6"/><use href="#d" x="480.8" y="149.1"/><use href="#d" x="130.5" y="417.6"/><use href="#d" x="284.3" y="299.7"/><use href="#d" x="196.2" y="357.8"/><use href="#d" x="165.6" y="385.4"/><use href="#d" x="176.6" y="387.0"/><use href="#d" x="386.2" y="224.0"/><use href="#d" x="216.4" y="364.6"/><use href="#d" x="154.9" y="402.0"/><use href="#d" x="346.2" y="247.4"/><use href="#d" x="151.0" y="418.2"/><use href="#d" x="238.5" y="330.2"/><use href="#d" x="157.2" y="403.2"/><use href="#d" x="335.3" y="246.9"/><use href="#d" x="457.2" y="150.5"/><use href="#d" x="199.9" y="358.8"/><use href="#d" x="356.4" y="235.9"/><use href="#d" x="286.7" y="296.4"/><use href="#d" x="170.6" y="401.0"/><use href="#d" x="437.4" y="182.4"/><use href="#d" x="171.9" y="386.4"/><use href="#d" x="121.1" y="421.9"/><use href="#d" x="135.9" y="407.4"/><use href="#d" x="251.0" y="319.7"/><use href="#d" x="534.9" y="124.1"/><use href="#d" x="281.2" y="290.7"/><use href="#d" x="439.7" y="165.3"/><use href="#d" x="269.0" y="304.4"/><use href="#d" x="319.1" y="261.7"/><use href="#d" x="297.8" y="284.1"/><use href="#d" x="128.3" y="421.1"/><use href="#d" x="351.6" y="237.8"/><use href="#d" x="270.8" y="298.6"/><use href="#d" x="322.4" y="255.1"/><use href="#d" x="444.3" y="167.6"/><use href="#d" x="267.9" y="311.9"/><use href="#d" x="269.4" y="298.8"/><use href="#d" x="379.9" y="225.8"/><use href="#d" x="244.7" y="326.1"/><use href="#d" x="337.1" y="262.0"/><use href="#d" x="215.7" y="342.0"/><use href="#d" x="465.6" y="152.6"/><use href="#d" x="495.2" y="131.5"/><use href="#d" x="231.2" y="341.5"/><use href="#d" x="482.1" y="134.7"/><use href="#d" x="462.2" y="161.6"/><use href="#d" x="121.9" y="426.9"/><use href="#d" x="438.6" y="171.5"/><use href="#d" x="459.0" y="155.8"/><use href="#d" x="445.3" y="162.7"/><use href="#d" x="305.7" y="275.4"/><use href="#d" x="154.1" y="397.0"/><use href="#d" x="406.1" y="200.3"/><use href="#d" x="196.9" y="358.8"/><use href="#d" x="298.4" y="280.9"/><use href="#d" x="326.8" y="271.6"/><use href="#d" x="278.2" y="310.2"/><use href="#d" x="148.3" y="417.4"/><use href="#d" x="176.4" y="384.3"/><use href="#d" x="192.8" y="359.2"/><use href="#d" x="175.2" y="374.8"/><use href="#d" x="371.7" y="231.1"/><use href="#d" x="278.5" y="302.6"/><use href="#d" x="487.0" y="132.7"/><use href="#d" x="368.2" y="231.3"/><use href="#d" x="420.4" y="177.3"/><use href="#d" x="220.0" y="357.1"/><use href="#d" x="364.2" y="223.8"/><use href="#d" x="273.4" y="312.9"/><use href="#d" x="298.8" y="290.2"/><use href="#d" x="518.0" y="123.4"/><use href="#d" x="323.6" y="254.2"/><use href="#d" x="361.0" y="235.8"/><use href="#d" x="460.3" y="145.3"/><use href="#d" x="191.5" y="367.0"/><use href="#d" x="451.4" y="167.2"/><use href="#d" x="416.7" y="183.8"/><use href="#d" x="434.0" y="171.3"/><use href="#d" x="346.8" y="236.4"/><use href="#d" x="234.6" y="322.8"/><use href="#d" x="160.4" y="395.6"/><use href="#d" x="225.2" y="331.5"/><use href="#d" x="227.5" y="338.1"/><use href="#d" x="380.0" y="224.2"/><use href="#d" x="437.2" y="176.9"/><use href="#d" x="456.2" y="152.3"/><use href="#d" x="266.6" y="320.9"/><use href="#d" x="207.2" y="355.3"/><use href="#d" x="270.2" y="315.9"/><use href="#d" x="533.6" y="122.0"/><use href="#d" x="360.0" y="229.1"/><use href="#d" x="113.5" y="427.8"/><use href="#d" x="493.0" y="148.9"/><use href="#d" x="342.0" y="243.8"/><use href="#d" x="329.2" y="248.5"/><use href="#d" x="423.9" y="180.7"/><use href="#d" x="323.7" y="268.0"/><use href="#d" x="161.9" y="386.4"/><use href="#d" x="254.2" y="326.7"/><use href="#d" x="109.2" y="426.8"/><use href="#d" x="371.4" y="237.2"/><use href="#d" x="381.5" y="224.7"/><use href="#d" x="481.3" y="150.3"/><use href="#d" x="338.8" y="254.4"/><use href="#d" x="482.9" y="137.4"/><use href="#d" x="254.1" y="313.2"/><use href="#d" x="220.4" y="350.2"/><use href="#d" x="341.7" y="243.3"/><use href="#d" x="410.1" y="193.0"/><use href="#d" x="216.4" y="350.3"/><use href="#d" x="460.1" y="150.3"/><use href="#d" x="209.4" y="362.6"/><use href="#d" x="219.5" y="348.6"/><use href="#d" x="184.7" y="360.9"/><use href="#d" x="238.5" y="323.3"/><use href="#d" x="433.8" y="186.1"/><use href="#d" x="463.1" y="157.3"/><use href="#d" x="212.2" y="342.9"/><use href="#d" x="270.3" y="300.6"/><use href="#d" x="462.8" y="167.1"/><use href="#d" x="255.3" y="329.7"/><use href="#d" x="274.3" y="295.3"/><use href="#d" x="372.6" y="237.9"/><use href="#d" x="318.6" y="281.0"/><use href="#d" x="165.1" y="400.6"/><use href="#d" x="162.3" y="401.4"/><use href="#d" x="505.5" y="134.5"/><use href="#d" x="536.2" y="122.5"/><use href="#d" x="156.3" y="402.7"/><use href="#d" x="348.2" y="246.8"/><use href="#d" x="450.2" y="165.7"/><use href="#d" x="242.1" y="338.8"/><use href="#d" x="524.7" y="128.4"/><use href="#d" x="173.6" y="375.4"/><use href="#d" x="361.2" y="226.2"/><use href="#d" x="311.2" y="275.7"/><use href="#d" x="488.7" y="136.5"/><use href="#d" x="450.4" y="161.2"/><use href="#d" x="179.4" y="387.6"/><use href="#d" x="329.3" y="268.3"/><use href="#d" x="384.3" y="213.2"/><use href="#d" x="317.3" y="273.0"/><use href="#d" x="245.6" y="319.6"/><use href="#d" x="506.1" y="129.3"/><use href="#d" x="291.5" y="290.3"/><use href="#d" x="311.5" y="264.1"/><use href="#d" x="432.4" y="171.9"/><use href="#d" x="144.5" y="416.9"/><use href="#d" x="259.4" y="319.7"/><use href="#d" x="336.2" y="249.2"/><use href="#d" x="223.6" y="345.3"/><use href="#d" x="390.3" y="210.6"/><use href="#d" x="141.2" y="412.0"/><use href="#d" x="321.3" y="273.2"/><use href="#d" x="467.6" y="145.8"/><use href="#d" x="480.9" y="155.1"/><use href="#d" x="331.5" y="256.0"/><use href="#d" x="325.0" y="263.9"/><use href="#d" x="331.1" y="253.0"/><use href="#d" x="190.2" y="356.2"/><use href="#d" x="483.3" y="153.8"/><use href="#d" x="474.3" y="141.6"/><use href="#d" x="110.4" y="427.1"/><use href="#d" x="257.6" y="329.2"/><use href="#d" x="528.5" y="128.9"/><use href="#d" x="129.5" y="424.6"/><use href="#d" x="500.4" y="125.0"/><use href="#d" x="185.3" y="378.5"/><use href="#d" x="498.7" y="141.4"/><use href="#d" x="393.6" y="208.7"/><use href="#d" x="276.6" y="296.1"/><use href="#d" x="465.6" y="145.2"/><use href="#d" x="400.3" y="214.1"/><use href="#d" x="419.1" y="187.1"/><use href="#d" x="245.1" y="316.7"/><use href="#d" x="186.0" y="375.9"/><use href="#d" x="253.1" y="311.1"/><use href="#d" x="340.1" y="250.1"/><use href="#d" x="346.0" y="245.3"/><use href="#d" x="442.1" y="162.1"/><use href="#d" x="191.5" y="368.6"/><use href="#d" x="210.8" y="348.3"/><use href="#d" x="263.2" y="314.1"/><use href="#d" x="290.4" y="286.6"/><use href="#d" x="208.1" y="355.7"/><use href="#d" x="298.9" y="292.9"/><use href="#d" x="450.3" y="166.6"/><use href="#d" x="169.0" y="389.8"/><use href="#d" x="225.2" y="348.4"/><use href="#d" x="433.9" y="173.3"/><use href="#d" x="452.4" y="169.2"/><use href="#d" x="424.4" y="182.1"/><use href="#d" x="132.6" y="410.1"/><use href="#d" x="419.1" y="184.3"/><use href="#d" x="158.7" y="395.7"/><use href="#d" x="363.3" y="242.1"/><use href="#d" x="285.1" y="298.9"/><use href="#d" x="413.0" y="196.1"/><use href="#d" x="133.4" y="413.3"/><use href="#d" x="323.6" y="269.4"/><use href="#d" x="155.0" y="395.6"/><use href="#d" x="333.8" y="253.0"/><use href="#d" x="425.3" y="181.6"/><use href="#d" x="268.0" y="305.2"/><use href="#d" x="308.1" y="267.3"/><use href="#d" x="386.6" y="212.4"/><use href="#d" x="239.5" y="340.2"/><use href="#d" x="309.1" y="272.8"/><use href="#d" x="504.1" y="125.7"/><use href="#d" x="284.4" y="300.1"/><use href="#d" x="440.4" y="165.6"/><use href="#d" x="401.3" y="209.2"/><use href="#d" x="299.9" y="291.3"/><use href="#d" x="203.8" y="369.6"/><use href="#d" x="256.9" y="326.3"/><use href="#d" x="452.1" y="155.8"/><use href="#d" x="127.4" y="423.4"/><use href="#d" x="279.7" y="302.0"/><use href="#d" x="427.2" y="192.9"/><use href="#d" x="443.1" y="171.9"/><use href="#d" x="215.5" y="361.0"/><use href="#d" x="357.9" y="237.9"/><use href="#d" x="458.7" y="151.6"/><use href="#d" x="226.0" y="341.7"/><use href="#d" x="342.7" y="248.5"/><use href="#d" x="176.7" y="385.9"/><use href="#d" x="510.5" y="129.0"/><use href="#d" x="378.3" y="223.6"/><use href="#d" x="262.0" y="324.7"/><use href="#d" x="134.5" y="409.6"/><use href="#d" x="417.9" y="194.3"/><use href="#d" x="480.6" y="138.0"/><use href="#d" x="225.7" y="333.9"/><use href="#d" x="272.0" y="311.9"/><use href="#d" x="168.2" y="379.2"/><use href="#d" x="214.7" y="339.3"/><use href="#d" x="464.9" y="164.7"/><use href="#d" x="221.4" y="344.9"/><use href="#d" x="197.0" y="368.8"/><use href="#d" x="421.3" y="180.1"/><use href="#d" x="317.7" y="260.0"/><use href="#d" x="303.0" y="294.2"/><use href="#d" x="361.9" y="237.4"/><use href="#d" x="202.3" y="364.2"/><use href="#d" x="256.7" y="316.0"/><use href="#d" x="520.6" y="130.6"/><use href="#d" x="178.7" y="371.6"/><use href="#d" x="424.6" y="173.1"/><use href="#d" x="204.0" y="354.0"/><use href="#d" x="205.0" y="366.9"/><use href="#d" x="121.6" y="428.9"/><use href="#d" x="349.6" y="246.1"/><use href="#d" x="181.0" y="365.7"/><use href="#d" x="406.5" y="205.8"/><use href="#d" x="248.1" y="321.7"/><use href="#d" x="232.7" y="335.9"/><use href="#d" x="263.5" y="307.1"/><use href="#d" x="214.3" y="344.7"/><use href="#d" x="242.6" y="331.8"/><use href="#d" x="488.7" y="136.7"/><use href="#d" x="335.1" y="247.8"/><use href="#d" x="507.6" y="133.5"/><use href="#d" x="386.1" y="221.4"/><use href="#d" x="418.1" y="187.4"/><use href="#d" x="289.8" y="286.5"/><use href="#d" x="331.6" y="257.7"/><use href="#d" x="343.0" y="249.8"/><use href="#d" x="465.9" y="159.9"/><use href="#d" x="414.1" y="197.6"/><use href="#d" x="442.1" y="168.8"/><use href="#d" x="282.5" y="298.0"/><use href="#d" x="134.1" y="408.2"/><use href="#d" x="336.5" y="246.3"/><use href="#d" x="496.1" y="135.1"/><use href="#d" x="168.0" y="383.0"/><use href="#d" x="300.1" y="295.5"/><use href="#d" x="371.9" y="233.1"/><use href="#d" x="179.5" y="375.5"/><use href="#d" x="513.7" y="128.9"/><use href="#d" x="199.5" y="358.8"/><use href="#d" x="349.7" y="237.0"/><use href="#d" x="365.4" y="237.5"/><use href="#d" x="401.7" y="191.4"/><use href="#d" x="392.6" y="202.0"/><use href="#d" x="474.2" y="157.6"/><use href="#d" x="247.6" y="314.0"/><use href="#d" x="480.4" y="130.1"/><use href="#d" x="391.8" y="214.1"/><use href="#d" x="358.7" y="231.4"/><use href="#d" x="478.4" y="134.5"/><use href="#d" x="210.2" y="346.6"/><use href="#d" x="521.6" y="131.1"/><use href="#d" x="208.9" y="347.7"/><use href="#d" x="488.1" y="146.9"/><use href="#d" x="388.5" y="209.8"/><use href="#d" x="429.6" y="182.4"/><use href="#d" x="127.0" y="420.9"/><use href="#d" x="276.4" y="302.9"/><use href="#d" x="182.8" y="373.6"/><use href="#d" x="329.6" y="272.9"/><use href="#d" x="359.6" y="225.4"/><use href="#d" x="187.1" y="377.6"/><use href="#d" x="384.7" y="225.8"/><use href="#d" x="449.7" y="172.8"/><use href="#d" x="502.9" y="124.5"/><use href="#d" x="488.9" y="142.3"/><use href="#d" x="151.6" y="397.8"/><use href="#d" x="192.1" y="370.4"/><use href="#d" x="177.2" y="364.7"/><use href="#d" x="346.0" y="241.6"/><use href="#d" x="168.7" y="390.9"/><use href="#d" x="333.4" y="252.5"/><use href="#d" x="507.9" y="127.7"/><use href="#d" x="280.1" y="299.9"/><use href="#d" x="276.1" y="309.8"/><use href="#d" x="270.9" y="314.6"/><use href="#d" x="230.7" y="327.2"/><use href="#d" x="185.3" y="366.8"/><use href="#d" x="491.9" y="148.6"/><use href="#d" x="266.3" y="313.7"/><use href="#d" x="166.0" y="385.4"/><use href="#d" x="388.9" y="206.0"/><use href="#d" x="248.3" y="326.9"/><use href="#d" x="187.9" y="366.4"/><use href="#d" x="220.6" y="340.5"/><use href="#d" x="490.2" y="126.2"/><use href="#d" x="355.8" y="232.2"/><use href="#d" x="429.0" y="172.9"/><use href="#d" x="321.2" y="276.7"/><use href="#d" x="293.4" y="281.4"/><use href="#d" x="282.6" y="290.1"/><use href="#d" x="440.8" y="170.5"/><use href="#d" x="193.2" y="368.7"/><use href="#d" x="435.7" y="180.0"/><use href="#d" x="116.3" y="424.8"/><use href="#d" x="478.8" y="151.8"/><use href="#d" x="408.4" y="205.2"/><use href="#d" x="506.2" y="128.3"/><use href="#d" x="231.8" y="344.7"/><use href="#d" x="390.8" y="210.3"/><use href="#d" x="221.0" y="350.4"/><use href="#d" x="334.0" y="256.6"/><use href="#d" x="378.9" y="229.8"/><use href="#d" x="233.2" y="331.5"/><use href="#d" x="322.3" y="262.2"/><use href="#d" x="320.4" y="261.5"/><use href="#d" x="168.4" y="384.3"/><use href="#d" x="304.2" y="271.3"/><use href="#d" x="507.0" y="125.2"/><use href="#d" x="509.1" y="132.1"/><use href="#d" x="129.5" y="424.8"/><use href="#d" x="198.2" y="359.3"/><use href="#d" x="529.9" y="119.9"/><use href="#d" x="166.0" y="402.9"/><use href="#d" x="399.6" y="203.1"/><use href="#d" x="377.2" y="225.3"/><use href="#d" x="195.7" y="367.7"/><use href="#d" x="247.1" y="332.6"/><use href="#d" x="118.6" y="425.2"/><use href="#d" x="164.2" y="393.9"/><use href="#d" x="214.3" y="355.8"/><use href="#d" x="441.7" y="179.0"/><use href="#d" x="254.7" y="315.9"/><use href="#d" x="420.0" y="194.2"/><use href="#d" x="479.7" y="143.5"/><use href="#d" x="396.1" y="202.2"/><use href="#d" x="159.0" y="405.6"/><use href="#d" x="374.7" y="231.7"/><use href="#d" x="453.7" y="167.4"/><use href="#d" x="286.8" y="297.5"/><use href="#d" x="272.0" y="301.9"/><use href="#d" x="268.2" y="313.8"/><use href="#d" x="261.9" y="308.6"/><use href="#d" x="489.1" y="150.7"/><use href="#d" x="277.3" y="306.2"/><use href="#d" x="215.4" y="344.4"/><use href="#d" x="165.3" y="397.0"/><use href="#d" x="216.9" y="361.8"/><use href="#d" x="262.0" y="313.3"/><use href="#d" x="192.6" y="357.4"/><use href="#d" x="295.0" y="279.0"/><use href="#d" x="464.0" y="159.7"/><use href="#d" x="106.9" y="426.0"/><use href="#d" x="375.1" y="222.4"/><use href="#d" x="115.9" y="424.1"/><use href="#d" x="498.9" y="134.1"/><use href="#d" x="141.3" y="414.0"/><use href="#d" x="448.2" y="170.5"/><use href="#d" x="317.3" y="279.4"/><use href="#d" x="343.5" y="244.9"/><use href="#d" x="336.8" y="260.9"/><use href="#d" x="416.6" y="191.1"/><use href="#d" x="301.7" y="281.5"/><use href="#d" x="359.3" y="227.1"/><use href="#d" x="457.8" y="153.0"/><use href="#d" x="488.5" y="151.1"/><use href="#d" x="131.8" y="410.6"/><use href="#d" x="453.2" y="167.0"/><use href="#d" x="406.4" y="194.7"/><use href="#d" x="312.4" y="259.8"/><use href="#d" x="344.8" y="250.3"/><use href="#d" x="483.8" y="135.5"/><use href="#d" x="172.9" y="399.3"/><use href="#d" x="518.1" y="124.0"/><use href="#d" x="158.5" y="393.3"/><use href="#d" x="210.7" y="361.8"/><use href="#d" x="430.8" y="192.7"/><use href="#d" x="300.8" y="282.2"/><use href="#d" x="314.9" y="262.7"/><use href="#d" x="309.1" y="281.7"/><use href="#d" x="426.8" y="176.8"/><use href="#d" x="120.7" y="421.4"/><use href="#d" x="136.4" y="412.3"/><use href="#d" x="269.3" y="299.3"/><use href="#d" x="162.9" y="397.1"/><use href="#d" x="485.5" y="134.3"/><use href="#d" x="206.0" y="366.8"/><use href="#d" x="186.7" y="362.4"/><use href="#d" x="453.3" y="172.0"/><use href="#d" x="239.1" y="327.8"/><use href="#d" x="263.1" y="312.0"/><use href="#d" x="464.6" y="146.3"/><use href="#d" x="239.0" y="327.4"/><use href="#d" x="485.6" y="147.0"/><use href="#d" x="497.6" y="133.0"/><use href="#d" x="123.2" y="417.2"/><use href="#d" x="234.3" y="329.4"/><use href="#d" x="533.1" y="124.1"/><use href="#d" x="212.7" y="364.5"/><use href="#d" x="256.4" y="308.0"/><use href="#d" x="289.4" y="292.1"/><use href="#d" x="283.7" y="297.3"/><use href="#d" x="409.8" y="188.7"/><use href="#d" x="325.8" y="258.9"/><use href="#d" x="236.2" y="323.4"/><use href="#d" x="503.9" y="122.8"/><use href="#d" x="303.8" y="281.3"/><use href="#d" x="460.8" y="158.6"/><use href="#d" x="326.6" y="256.8"/><use href="#d" x="445.2" y="167.3"/><use href="#d" x="510.7" y="131.0"/><use href="#d" x="409.6" y="193.7"/><use href="#d" x="345.0" y="250.1"/><use href="#d" x="445.5" y="170.9"/><use href="#d" x="122.7" y="422.6"/><use href="#d" x="175.6" y="384.3"/><use href="#d" x="166.2" y="401.6"/><use href="#d" x="324.7" y="275.0"/><use href="#d" x="457.1" y="151.7"/><use href="#d" x="137.1" y="421.2"/><use href="#d" x="529.5" y="125.1"/><use href="#d" x="115.3" y="425.5"/><use href="#d" x="156.9" y="399.0"/><use href="#d" x="225.6" y="346.2"/><use href="#d" x="150.4" y="400.6"/><use href="#d" x="288.5" y="290.4"/><use href="#d" x="299.9" y="288.9"/><use href="#d" x="204.9" y="349.1"/><use href="#d" x="311.2" y="277.3"/><use href="#d" x="378.6" y="219.9"/><use href="#d" x="196.2" y="370.5"/><use href="#d" x="208.8" y="345.8"/><use href="#d" x="429.3" y="181.7"/><use href="#d" x="443.1" y="178.2"/><use href="#d" x="334.0" y="247.3"/><use href="#d" x="341.3" y="255.7"/><use href="#d" x="248.9" y="327.4"/><use href="#d" x="197.1" y="352.1"/><use href="#d" x="489.9" y="151.3"/><use href="#d" x="128.1" y="427.5"/><use href="#d" x="410.4" y="200.6"/><use href="#d" x="418.7" y="182.1"/><use href="#d" x="513.6" y="130.3"/><use href="#d" x="468.8" y="153.8"/><use href="#d" x="194.2" y="362.0"/><use href="#d" x="412.7" y="194.0"/><use href="#d" x="282.7" y="287.8"/><use href="#d" x="204.1" y="348.5"/><use href="#d" x="291.0" y="296.0"/><use href="#d" x="519.5" y="129.9"/><use href="#d" x="379.8" y="230.5"/><use href="#d" x="381.9" y="215.5"/><use href="#d" x="406.9" y="201.9"/><use href="#d" x="382.2" y="224.7"/><use href="#d" x="496.6" y="138.2"/><use href="#d" x="481.7" y="147.4"/><use href="#d" x="491.8" y="148.9"/><use href="#d" x="512.3" y="120.7"/><use href="#d" x="281.4" y="289.8"/><use href="#d" x="240.3" y="324.9"/><use href="#d" x="157.0" y="404.4"/><use href="#d" x="189.8" y="368.0"/><use href="#d" x="233.9" y="332.3"/><use href="#d" x="340.7" y="241.4"/><use href="#d" x="260.5" y="307.7"/><use href="#d" x="474.7" y="158.9"/><use href="#d" x="422.0" y="188.7"/><use href="#d" x="498.1" y="141.1"/><use href="#d" x="172.4" y="387.5"/><use href="#d" x="386.8" y="218.7"/><use href="#d" x="334.5" y="246.7"/><use href="#d" x="132.1" y="423.0"/><use href="#d" x="219.3" y="335.6"/><use href="#d" x="238.9" y="333.9"/><use href="#d" x="246.9" y="330.5"/><use href="#d" x="141.2" y="414.9"/><use href="#d" x="429.5" y="183.7"/><use href="#d" x="476.1" y="146.8"/><use href="#d" x="431.3" y="189.8"/><use href="#d" x="251.2" y="330.0"/><use href="#d" x="365.9" y="229.3"/><use href="#d" x="341.6" y="241.2"/><use href="#d" x="260.5" y="326.7"/><use href="#d" x="268.5" y="294.8"/><use href="#d" x="381.3" y="225.2"/><use href="#d" x="207.1" y="345.8"/><use href="#d" x="326.8" y="259.9"/><use href="#d" x="113.5" y="428.6"/><use href="#d" x="422.6" y="175.1"/><use href="#d" x="434.1" y="170.5"/><use href="#d" x="130.7" y="412.3"/><use href="#d" x="263.6" y="300.7"/><use href="#d" x="299.1" y="290.1"/><use href="#d" x="302.8" y="294.1"/><use href="#d" x="212.1" y="350.5"/><use href="#d" x="354.5" y="240.0"/><use href="#d" x="419.1" y="176.5"/><use href="#d" x="191.4" y="365.1"/><use href="#d" x="229.2" y="338.2"/><use href="#d" x="141.1" y="418.7"/><use href="#d" x="178.1" y="388.8"/><use href="#d" x="378.5" y="223.9"/><use href="#d" x="152.5" y="411.2"/><use href="#d" x="372.8" y="234.4"/><use href="#d" x="163.0" y="385.0"/><use href="#d" x="166.0" y="389.4"/><use href="#d" x="451.2" y="163.5"/><use href="#d" x="224.7" y="345.0"/><use href="#d" x="129.1" y="425.1"/><use href="#d" x="166.9" y="392.4"/><use href="#d" x="130.0" y="417.9"/><use href="#d" x="136.7" y="411.9"/><use href="#d" x="475.8" y="156.6"/><use href="#d" x="492.2" y="135.9"/><use href="#d" x="462.6" y="158.6"/><use href="#d" x="480.1" y="147.9"/><use href="#d" x="498.3" y="133.9"/><use href="#d" x="173.3" y="373.2"/><use href="#d" x="485.8" y="142.9"/><use href="#d" x="396.9" y="211.2"/><use href="#d" x="533.5" y="124.1"/><use href="#d" x="356.7" y="233.9"/><use href="#d" x="213.2" y="359.4"/><use href="#d" x="228.6" y="340.9"/><use href="#d" x="233.0" y="343.3"/><use href="#d" x="367.5" y="223.1"/><use href="#d" x="397.2" y="199.3"/><use href="#d" x="145.9" y="419.5"/><use href="#d" x="165.2" y="402.4"/><use href="#d" x="225.4" y="334.4"/><use href="#d" x="386.0" y="218.8"/><use href="#d" x="248.7" y="317.6"/><use href="#d" x="361.8" y="223.9"/><use href="#d" x="431.0" y="172.2"/><use href="#d" x="351.3" y="242.2"/><use href="#d" x="378.3" y="226.5"/><use href="#d" x="411.6" y="195.4"/><use href="#d" x="353.9" y="230.0"/><use href="#d" x="156.7" y="399.1"/><use href="#d" x="234.7" y="335.1"/><use href="#d" x="338.1" y="250.2"/><use href="#d" x="181.8" y="386.9"/><use href="#d" x="228.0" y="325.9"/><use href="#d" x="395.2" y="211.2"/><use href="#d" x="387.0" y="214.4"/><use href="#d" x="381.4" y="214.3"/><use href="#d" x="313.1" y="276.9"/><use href="#d" x="198.9" y="369.3"/><use href="#d" x="383.1" y="220.6"/><use href="#d" x="453.0" y="156.6"/><use href="#d" x="271.1" y="303.3"/><use href="#d" x="437.5" y="182.5"/><use href="#d" x="430.1" y="186.9"/><use href="#d" x="459.7" y="154.9"/><use href="#d" x="440.9" y="174.7"/><use href="#d" x="391.4" y="212.3"/><use href="#d" x="406.5" y="200.4"/><use href="#d" x="141.5" y="417.9"/><use href="#d" x="423.3" y="181.5"/><use href="#d" x="176.4" y="381.0"/><use href="#d" x="517.4" y="122.9"/><use href="#d" x="393.0" y="208.2"/><use href="#d" x="175.2" y="375.1"/><use href="#d" x="152.3" y="407.3"/><use href="#d" x="316.6" y="270.1"/><use href="#d" x="464.0" y="159.5"/><use href="#d" x="375.2" y="220.9"/><use href="#d" x="121.2" y="427.7"/><use href="#d" x="324.0" y="256.3"/><use href="#d" x="173.2" y="371.2"/><use href="#d" x="301.0" y="280.5"/><use href="#d" x="376.3" y="220.4"/><use href="#d" x="384.9" y="216.2"/><use href="#d" x="351.0" y="235.9"/><use href="#d" x="216.9" y="359.8"/><use href="#d" x="300.6" y="291.6"/><use href="#d" x="301.4" y="279.2"/><use href="#d" x="365.4" y="233.4"/><use href="#d" x="351.7" y="243.3"/><use href="#d" x="476.1" y="138.1"/><use href="#d" x="244.7" y="325.8"/><use href="#d" x="492.7" y="141.1"/><use href="#d" x="518.3" y="129.1"/><use href="#d" x="210.2" y="350.5"/><use href="#d" x="524.6" y="127.8"/><use href="#d" x="191.9" y="365.1"/><use href="#d" x="470.0" y="146.4"/><use href="#d" x="210.8" y="342.4"/><use href="#d" x="332.2" y="266.0"/><use href="#d" x="204.4" y="366.3"/><use href="#d" x="369.2" y="241.2"/><use href="#d" x="138.9" y="418.2"/><use href="#d" x="138.6" y="415.0"/><use href="#d" x="190.0" y="358.1"/><use href="#d" x="452.5" y="162.2"/><use href="#d" x="167.6" y="397.0"/><use href="#d" x="304.4" y="281.1"/><use href="#d" x="461.0" y="145.6"/><use href="#d" x="158.9" y="398.5"/><use href="#d" x="184.7" y="374.0"/><use href="#d" x="534.1" y="121.1"/><use href="#d" x="453.1" y="163.6"/><use href="#d" x="416.0" y="182.9"/><use href="#d" x="341.2" y="244.4"/><use href="#d" x="279.7" y="308.3"/><use href="#d" x="436.4" y="168.5"/><use href="#d" x="285.3" y="285.8"/><use href="#d" x="374.5" y="226.2"/><use href="#d" x="414.2" y="188.2"/><use href="#d" x="460.1" y="159.2"/><use href="#d" x="148.2" y="408.0"/><use href="#d" x="216.2" y="342.7"/><use href="#d" x="535.6" y="122.6"/><use href="#d" x="207.0" y="368.6"/><use href="#d" x="452.5" y="154.8"/><use href="#d" x="377.3" y="226.8"/><use href="#d" x="186.3" y="370.9"/><use href="#d" x="373.8" y="227.6"/><use href="#d" x="392.2" y="212.2"/><use href="#d" x="396.6" y="203.4"/><use href="#d" x="486.9" y="140.1"/><use href="#d" x="480.4" y="154.4"/><use href="#d" x="417.0" y="190.1"/><use href="#d" x="403.7" y="190.8"/><use href="#d" x="381.3" y="222.8"/><use href="#d" x="379.0" y="221.8"/><use href="#d" x="209.9" y="347.7"/><use href="#d" x="246.4" y="317.2"/><use href="#d" x="305.7" y="275.0"/><use href="#d" x="390.5" y="219.8"/><use href="#d" x="306.1" y="275.3"/><use href="#d" x="399.3" y="197.4"/><use href="#d" x="481.1" y="139.2"/><use href="#d" x="355.8" y="238.5"/><use href="#d" x="227.8" y="336.6"/><use href="#d" x="463.5" y="146.9"/><use href="#d" x="131.3" y="411.9"/><use href="#d" x="531.4" y="127.9"/><use href="#d" x="181.8" y="374.9"/><use href="#d" x="143.3" y="406.8"/><use href="#d" x="327.8" y="276.5"/><use href="#d" x="232.8" y="339.9"/><use href="#d" x="164.7" y="380.4"/><use href="#d" x="126.8" y="423.6"/><use href="#d" x="369.3" y="239.7"/><use href="#d" x="431.9" y="184.6"/><use href="#d" x="234.2" y="334.5"/><use href="#d" x="533.9" y="121.3"/><use href="#d" x="194.4" y="373.0"/><use href="#d" x="353.3" y="231.2"/><use href="#d" x="316.1" y="266.6"/><use href="#d" x="261.7" y="318.0"/><use href="#d" x="168.5" y="376.2"/><use href="#d" x="341.3" y="258.5"/><use href="#d" x="379.5" y="228.4"/><use href="#d" x="277.0" y="296.7"/><use href="#d" x="253.7" y="313.9"/><use href="#d" x="173.7" y="378.6"/><use href="#d" x="262.5" y="322.2"/><use href="#d" x="504.1" y="134.2"/><use href="#d" x="527.5" y="123.8"/><use href="#d" x="267.4" y="301.1"/><use href="#d" x="294.2" y="287.0"/><use href="#d" x="486.9" y="144.5"/><use href="#d" x="167.8" y="396.2"/><use href="#d" x="208.0" y="361.7"/><use href="#d" x="306.3" y="267.7"/><use href="#d" x="260.0" y="306.6"/><use href="#d" x="345.8" y="253.0"/><use href="#d" x="251.3" y="328.2"/><use href="#d" x="327.5" y="271.2"/><use href="#d" x="111.9" y="427.2"/><use href="#d" x="143.2" y="418.9"/><use href="#d" x="325.4" y="255.7"/><use href="#d" x="460.7" y="156.7"/><use href="#d" x="340.4" y="245.6"/><use href="#d" x="148.6" y="405.5"/><use href="#d" x="350.1" y="251.1"/><use href="#d" x="376.3" y="226.5"/><use href="#d" x="178.9" y="384.1"/><use href="#d" x="303.6" y="288.0"/><use href="#d" x="151.7" y="416.9"/><use href="#d" x="320.1" y="258.5"/><use href="#d" x="459.1" y="159.0"/><use href="#d" x="233.4" y="329.0"/><use href="#d" x="503.6" y="129.2"/><use href="#d" x="532.4" y="122.3"/><use href="#d" x="300.4" y="288.9"/><use href="#d" x="287.9" y="296.9"/><use href="#d" x="257.7" y="323.9"/><use href="#d" x="195.5" y="362.4"/><use href="#d" x="296.6" y="287.5"/><use href="#d" x="380.1" y="230.1"/><use href="#d" x="278.0" y="296.5"/><use href="#d" x="315.3" y="258.6"/><use href="#d" x="355.8" y="246.1"/><use href="#d" x="495.7" y="135.1"/><use href="#d" x="382.7" y="219.1"/><use href="#d" x="334.7" y="252.0"/><use href="#d" x="182.2" y="361.5"/><use href="#d" x="465.1" y="156.1"/><use href="#d" x="117.6" y="428.0"/><use href="#d" x="481.7" y="148.5"/><use href="#d" x="183.5" y="373.2"/><use href="#d" x="222.6" y="330.4"/><use href="#d" x="396.6" y="212.6"/><use href="#d" x="294.5" y="285.9"/><use href="#d" x="526.1" y="130.8"/><use href="#d" x="314.0" y="278.5"/><use href="#d" x="440.2" y="166.3"/><use href="#d" x="132.0" y="425.0"/><use href="#d" x="443.7" y="172.1"/><use href="#d" x="153.7" y="413.9"/><use href="#d" x="180.5" y="389.0"/><use href="#d" x="385.7" y="221.0"/><use href="#d" x="134.4" y="411.8"/><use href="#d" x="117.6" y="423.4"/><use href="#d" x="491.8" y="143.1"/><use href="#d" x="179.1" y="369.6"/><use href="#d" x="173.8" y="394.2"/><use href="#d" x="450.2" y="156.5"/><use href="#d" x="440.1" y="176.9"/><use href="#d" x="482.1" y="152.7"/><use href="#d" x="312.2" y="268.0"/><use href="#d" x="503.6" y="122.6"/><use href="#d" x="113.0" y="428.5"/><use href="#d" x="356.4" y="245.3"/><use href="#d" x="406.4" y="195.8"/><use href="#d" x="199.3" y="352.7"/><use href="#d" x="266.6" y="318.7"/><use href="#d" x="353.6" y="233.2"/><use href="#d" x="229.1" y="334.9"/><use href="#d" x="113.0" y="428.6"/><use href="#d" x="377.7" y="226.9"/><use href="#d" x="132.2" y="419.4"/><use href="#d" x="340.2" y="243.2"/><use href="#d" x="322.0" y="261.2"/><use href="#d" x="369.0" y="238.4"/><use href="#d" x="226.8" y="342.5"/><use href="#d" x="218.6" y="359.2"/><use href="#d" x="193.7" y="367.5"/><use href="#d" x="264.8" y="301.7"/><use href="#d" x="399.0" y="200.4"/><use href="#d" x="344.2" y="241.6"/><use href="#d" x="456.0" y="159.7"/><use href="#d" x="317.4" y="274.0"/><use href="#d" x="255.4" y="325.4"/><use href="#d" x="457.1" y="160.4"/><use href="#d" x="459.5" y="163.1"/><use href="#d" x="298.5" y="277.3"/><use href="#d" x="200.8" y="363.7"/><use href="#d" x="368.7" y="228.2"/><use href="#d" x="419.6" y="181.3"/><use href="#d" x="134.8" y="413.3"/><use href="#d" x="163.3" y="393.2"/><use href="#d" x="347.2" y="234.6"/><use href="#d" x="368.0" y="225.1"/><use href="#d" x="486.6" y="136.7"/><use href="#d" x="179.4" y="368.1"/><use href="#d" x="351.2" y="246.6"/><use href="#d" x="492.9" y="125.6"/><use href="#d" x="242.4" y="332.2"/><use href="#d" x="383.0" y="223.5"/><use href="#d" x="354.1" y="229.8"/><use href="#d" x="126.3" y="423.8"/><use href="#d" x="265.8" y="302.2"/><use href="#d" x="107.9" y="426.0"/><use href="#d" x="321.3" y="256.0"/><use href="#d" x="262.3" y="324.1"/><use href="#d" x="457.4" y="154.3"/><use href="#d" x="440.1" y="167.7"/><use href="#d" x="179.5" y="373.6"/><use href="#d" x="152.1" y="414.7"/><use href="#d" x="215.6" y="352.0"/><use href="#d" x="471.6" y="155.8"/><use href="#d" x="418.2" y="195.9"/><use href="#d" x="373.2" y="234.6"/><use href="#d" x="352.7" y="241.5"/><use href="#d" x="187.3" y="368.9"/><use href="#d" x="243.1" y="336.5"/><use href="#d" x="195.9" y="366.7"/><use href="#d" x="282.0" y="302.7"/><use href="#d" x="142.1" y="415.6"/><use href="#d" x="381.8" y="224.3"/><use href="#d" x="332.2" y="258.6"/><use href="#d" x="406.7" y="209.9"/><use href="#d" x="197.4" y="352.1"/><use href="#d" x="203.9" y="358.7"/><use href="#d" x="508.7" y="131.5"/><use href="#d" x="382.3" y="228.6"/><use href="#d" x="234.9" y="324.6"/><use href="#d" x="387.8" y="222.2"/><use href="#d" x="179.5" y="366.6"/><use href="#d" x="362.1" y="226.6"/><use href="#d" x="156.6" y="401.9"/><use href="#d" x="455.8" y="170.2"/><use href="#d" x="257.5" y="317.7"/><use href="#d" x="137.7" y="418.6"/><use href="#d" x="186.5" y="368.1"/><use href="#d" x="462.5" y="158.4"/><use href="#d" x="191.5" y="368.8"/><use href="#d" x="141.5" y="405.7"/><use href="#d" x="290.4" y="284.1"/><use href="#d" x="158.2" y="403.5"/><use href="#d" x="375.0" y="231.5"/><use href="#d" x="163.0" y="390.6"/><use href="#d" x="139.1" y="415.3"/><use href="#d" x="202.9" y="367.0"/><use href="#d" x="223.3" y="343.5"/><use href="#d" x="229.4" y="334.1"/><use href="#d" x="350.1" y="248.2"/><use href="#d" x="525.9" y="123.2"/><use href="#d" x="260.8" y="304.4"/><use href="#d" x="438.9" y="169.5"/><use href="#d" x="301.2" y="296.2"/><use href="#d" x="316.6" y="271.3"/><use href="#d" x="217.3" y="346.2"/><use href="#d" x="308.6" y="264.1"/><use href="#d" x="233.5" y="326.8"/><use href="#d" x="190.9" y="368.9"/><use href="#d" x="221.1" y="331.9"/><use href="#d" x="483.4" y="148.8"/><use href="#d" x="186.2" y="362.8"/><use href="#d" x="254.6" y="316.2"/><use href="#d" x="196.6" y="355.7"/><use href="#d" x="151.6" y="404.0"/><use href="#d" x="201.2" y="350.8"/><use href="#d" x="438.3" y="169.8"/><use href="#d" x="122.3" y="424.6"/><use href="#d" x="465.6" y="164.5"/><use href="#d" x="530.4" y="118.5"/><use href="#d" x="454.5" y="164.3"/><use href="#d" x="324.3" y="266.3"/><use href="#d" x="180.4" y="369.6"/><use href="#d" x="296.2" y="289.6"/><use href="#d" x="158.0" y="394.9"/><use href="#d" x="355.7" y="246.5"/><use href="#d" x="217.4" y="360.8"/><use href="#d" x="463.2" y="164.5"/><use href="#d" x="360.4" y="230.2"/><use href="#d" x="131.3" y="420.4"/><use href="#d" x="424.2" y="173.3"/><use href="#d" x="458.8" y="166.9"/><use href="#d" x="252.8" y="317.1"/><use href="#d" x="432.1" y="189.6"/><use href="#d" x="189.2" y="364.0"/><use href="#d" x="234.2" y="332.5"/><use href="#d" x="287.2" y="292.0"/><use href="#d" x="271.2" y="295.5"/><use href="#d" x="137.5" y="415.4"/><use href="#d" x="391.4" y="208.5"/><use href="#d" x="416.2" y="192.9"/><use href="#d" x="327.4" y="263.3"/><use href="#d" x="464.8" y="148.4"/><use href="#d" x="252.4" y="317.0"/><use href="#d" x="235.9" y="341.2"/><use href="#d" x="143.9" y="412.6"/><use href="#d" x="428.2" y="177.1"/><use href="#d" x="435.1" y="173.2"/><use href="#d" x="245.8" y="327.5"/><use href="#d" x="380.9" y="220.5"/><use href="#d" x="117.0" y="426.4"/><use href="#d" x="497.6" y="124.1"/><use href="#d" x="195.6" y="367.0"/><use href="#d" x="134.0" y="420.3"/><use href="#d" x="489.8" y="127.7"/><use href="#d" x="533.1" y="125.3"/><use href="#d" x="389.4" y="207.5"/><use href="#d" x="141.6" y="406.1"/><use href="#d" x="206.0" y="363.1"/><use href="#d" x="401.1" y="207.8"/><use href="#d" x="314.9" y="280.6"/><use href="#d" x="184.0" y="366.4"/><use href="#d" x="467.0" y="147.8"/><use href="#d" x="435.5" y="181.1"/><use href="#d" x="272.4" y="296.3"/><use href="#d" x="419.9" y="185.3"/><use href="#d" x="386.4" y="211.9"/><use href="#d" x="226.2" y="330.8"/><use href="#d" x="204.4" y="366.5"/><use href="#d" x="459.0" y="164.9"/><use href="#d" x="258.7" y="316.7"/><use href="#d" x="168.3" y="395.0"/><use href="#d" x="488.0" y="130.5"/><use href="#d" x="422.5" y="182.0"/><use href="#d" x="425.8" y="182.8"/><use href="#d" x="203.0" y="367.1"/><use href="#d" x="530.6" y="121.8"/><use href="#d" x="246.9" y="316.3"/><use href="#d" x="199.9" y="366.3"/><use href="#d" x="465.7" y="161.0"/><use href="#d" x="231.7" y="330.6"/><use href="#d" x="464.3" y="164.8"/><use href="#d" x="343.6" y="257.1"/><use href="#d" x="476.0" y="147.8"/><use href="#d" x="491.0" y="148.6"/><use href="#d" x="402.2" y="206.6"/><use href="#d" x="422.0" y="187.1"/><use href="#d" x="520.6" y="124.8"/><use href="#d" x="289.3" y="281.7"/><use href="#d" x="489.0" y="130.2"/><use href="#d" x="247.7" y="326.9"/><use href="#d" x="485.6" y="139.1"/><use href="#d" x="174.8" y="369.6"/><use href="#d" x="494.6" y="125.6"/><use href="#d" x="441.0" y="166.9"/><use href="#d" x="452.1" y="169.7"/><use href="#d" x="132.2" y="416.6"/><use href="#d" x="294.5" y="286.0"/><use href="#d" x="355.1" y="245.0"/><use href="#d" x="284.8" y="295.0"/><use href="#d" x="480.1" y="150.8"/><use href="#d" x="269.4" y="317.0"/><use href="#d" x="330.4" y="266.3"/><use href="#d" x="414.6" y="195.0"/><use href="#d" x="181.8" y="377.6"/><use href="#d" x="296.7" y="293.3"/><use href="#d" x="269.9" y="296.8"/><use href="#d" x="283.7" y="293.6"/><use href="#d" x="182.1" y="381.9"/><use href="#d" x="337.0" y="249.5"/><use href="#d" x="326.8" y="259.5"/><use href="#d" x="411.4" y="196.9"/><use href="#d" x="122.2" y="423.4"/><use href="#d" x="214.8" y="356.5"/><use href="#d" x="312.7" y="280.4"/><use href="#d" x="383.8" y="218.4"/><use href="#d" x="151.9" y="415.4"/><use href="#d" x="190.4" y="362.1"/><use href="#d" x="368.3" y="223.3"/><use href="#d" x="496.6" y="135.5"/><use href="#d" x="313.3" y="261.5"/><use href="#d" x="364.1" y="238.3"/><use href="#d" x="302.5" y="276.6"/><use href="#d" x="444.5" y="169.7"/><use href="#d" x="380.6" y="222.4"/><use href="#d" x="467.5" y="156.8"/><use href="#d" x="371.6" y="227.6"/><use href="#d" x="411.1" y="188.6"/><use href="#d" x="442.2" y="167.6"/><use href="#d" x="418.8" y="187.0"/><use href="#d" x="509.2" y="123.0"/><use href="#d" x="277.9" y="308.3"/><use href="#d" x="334.1" y="247.5"/><use href="#d" x="236.9" y="321.2"/><use href="#d" x="228.8" y="339.1"/><use href="#d" x="496.7" y="139.2"/><use href="#d" x="397.0" y="215.8"/><use href="#d" x="279.5" y="296.5"/><use href="#d" x="399.3" y="193.4"/><use href="#d" x="159.7" y="401.4"/><use href="#d" x="379.4" y="224.7"/><use href="#d" x="346.5" y="246.3"/><use href="#d" x="383.3" y="228.4"/><use href="#d" x="431.2" y="190.0"/><use href="#d" x="480.2" y="142.1"/><use href="#d" x="137.4" y="412.7"/><use href="#d" x="412.8" y="182.6"/><use href="#d" x="325.7" y="262.9"/><use href="#d" x="215.5" y="357.9"/><use href="#d" x="266.4" y="302.9"/><use href="#d" x="303.1" y="284.3"/><use href="#d" x="148.6" y="415.6"/><use href="#d" x="130.1" y="420.0"/><use href="#d" x="266.6" y="310.2"/><use href="#d" x="275.3" y="295.3"/><use href="#d" x="317.9" y="266.5"/><use href="#d" x="184.0" y="373.1"/><use href="#d" x="365.0" y="235.4"/><use href="#d" x="440.0" y="170.9"/><use href="#d" x="154.1" y="396.4"/><use href="#d" x="291.5" y="285.9"/><use href="#d" x="239.0" y="331.6"/><use href="#d" x="349.2" y="251.9"/><use href="#d" x="152.0" y="404.5"/><use href="#d" x="406.1" y="193.4"/><use href="#d" x="533.9" y="121.9"/><use href="#d" x="278.5" y="306.9"/><use href="#d" x="484.9" y="139.6"/><use href="#d" x="494.5" y="146.6"/><use href="#d" x="289.8" y="297.3"/><use href="#d" x="509.9" y="115.0"/><use href="#d" x="329.6" y="252.7"/><use href="#d" x="332.2" y="253.6"/><use href="#d" x="352.7" y="238.0"/><use href="#d" x="448.7" y="170.8"/><use href="#d" x="227.6" y="326.1"/><use href="#d" x="209.1" y="349.1"/><use href="#d" x="295.1" y="287.3"/><use href="#d" x="220.0" y="338.2"/><use href="#d" x="372.9" y="232.4"/><use href="#d" x="149.0" y="397.9"/><use href="#d" x="439.0" y="181.1"/><use href="#d" x="174.8" y="369.6"/><use href="#d" x="362.4" y="234.4"/><use href="#d" x="463.2" y="148.0"/><use href="#d" x="514.3" y="127.6"/><use href="#d" x="416.8" y="191.1"/><use href="#d" x="197.2" y="363.8"/><use href="#d" x="251.7" y="312.6"/><use href="#d" x="217.0" y="362.1"/><use href="#d" x="352.8" y="240.4"/><use href="#d" x="286.8" y="294.9"/><use href="#d" x="519.2" y="127.8"/><use href="#d" x="442.8" y="168.4"/><use href="#d" x="333.7" y="248.7"/><use href="#d" x="339.2" y="248.5"/><use href="#d" x="375.1" y="221.3"/><use href="#d" x="515.6" y="123.4"/><use href="#d" x="480.6" y="133.0"/><use href="#d" x="507.8" y="126.4"/><use href="#d" x="350.5" y="239.9"/><use href="#d" x="532.9" y="123.2"/><use href="#d" x="345.6" y="241.5"/><use href="#d" x="310.2" y="263.0"/><use href="#d" x="304.4" y="269.8"/><use href="#d" x="135.3" y="411.1"/><use href="#d" x="245.6" y="316.2"/><use href="#d" x="352.5" y="233.1"/><use href="#d" x="432.5" y="174.2"/><use href="#d" x="416.3" y="180.8"/><use href="#d" x="395.3" y="202.7"/><use href="#d" x="333.5" y="247.9"/><use href="#d" x="348.1" y="250.0"/><use href="#d" x="488.8" y="127.6"/><use href="#d" x="361.9" y="235.8"/><use href="#d" x="501.6" y="129.2"/><use href="#d" x="287.5" y="289.0"/><use href="#d" x="343.8" y="258.4"/><use href="#d" x="377.7" y="226.1"/><use href="#d" x="402.3" y="192.6"/><use href="#d" x="196.2" y="370.5"/><use href="#d" x="494.5" y="137.6"/><use href="#d" x="507.7" y="132.3"/><use href="#d" x="221.2" y="352.2"/><use href="#d" x="450.8" y="166.6"/><use href="#d" x="153.2" y="394.9"/><use href="#d" x="398.7" y="199.3"/><use href="#d" x="462.9" y="150.3"/><use href="#d" x="181.8" y="376.7"/><use href="#d" x="519.4" y="121.4"/><use href="#d" x="404.6" y="198.6"/><use href="#d" x="317.4" y="256.0"/><use href="#d" x="439.6" y="169.8"/><use href="#d" x="352.6" y="233.4"/><use href="#d" x="400.9" y="200.4"/><use href="#d" x="460.2" y="148.4"/><use href="#d" x="264.5" y="301.2"/><use href="#d" x="380.5" y="217.4"/><use href="#d" x="412.0" y="200.9"/><use href="#d" x="453.4" y="158.3"/><use href="#d" x="337.0" y="244.7"/><use href="#d" x="215.6" y="348.8"/><use href="#d" x="517.4" y="123.0"/><use href="#d" x="473.5" y="151.2"/><use href="#d" x="260.7" y="324.6"/><use href="#d" x="400.0" y="199.3"/><use href="#d" x="490.4" y="147.3"/><use href="#d" x="426.2" y="182.4"/><use href="#d" x="287.5" y="300.1"/><use href="#d" x="419.6" y="186.1"/><use href="#d" x="453.9" y="163.0"/><use href="#d" x="155.2" y="403.7"/><use href="#d" x="261.3" y="309.9"/><use href="#d" x="421.0" y="188.7"/><use href="#d" x="419.8" y="192.8"/><use href="#d" x="109.0" y="427.4"/><use href="#d" x="129.5" y="418.6"/><use href="#d" x="353.5" y="238.4"/><use href="#d" x="499.4" y="129.0"/><use href="#d" x="251.3" y="314.9"/><use href="#d" x="439.6" y="168.4"/><use href="#d" x="183.0" y="380.4"/><use href="#d" x="229.4" y="328.8"/><use href="#d" x="456.1" y="171.2"/><use href="#d" x="197.0" y="357.3"/><use href="#d" x="247.1" y="312.3"/><use href="#d" x="244.0" y="318.4"/><use href="#d" x="438.3" y="172.2"/><use href="#d" x="186.4" y="375.0"/><use href="#d" x="453.8" y="171.3"/><use href="#d" x="333.0" y="266.5"/><use href="#d" x="245.9" y="325.7"/><use href="#d" x="357.5" y="238.4"/><use href="#d" x="183.4" y="381.4"/><use href="#d" x="341.5" y="246.0"/><use href="#d" x="247.4" y="316.9"/><use href="#d" x="139.7" y="408.8"/><use href="#d" x="268.3" y="304.0"/><use href="#d" x="206.9" y="355.2"/><use href="#d" x="266.8" y="308.3"/><use href="#d" x="181.3" y="385.6"/><use href="#d" x="528.7" y="128.3"/><use href="#d" x="346.8" y="246.5"/><use href="#d" x="417.4" y="183.3"/><use href="#d" x="135.0" y="414.1"/><use href="#d" x="475.4" y="154.6"/><use href="#d" x="121.5" y="424.4"/><use href="#d" x="181.4" y="366.5"/><use href="#d" x="206.1" y="362.4"/><use href="#d" x="490.8" y="132.4"/><use href="#d" x="320.3" y="279.4"/><use href="#d" x="182.9" y="373.6"/><use href="#d" x="118.8" y="424.7"/><use href="#d" x="526.5" y="128.4"/><use href="#d" x="238.8" y="335.0"/><use href="#d" x="330.6" y="260.0"/><use href="#d" x="392.4" y="216.9"/><use href="#d" x="487.3" y="135.9"/><use href="#d" x="161.5" y="385.8"/><use href="#d" x="479.9" y="134.0"/><use href="#d" x="464.7" y="151.0"/><use href="#d" x="358.3" y="242.6"/><use href="#d" x="429.8" y="171.8"/><use href="#d" x="212.4" y="366.7"/><use href="#d" x="170.1" y="382.3"/><use href="#d" x="152.3" y="409.1"/><use href="#d" x="180.5" y="370.0"/><use href="#d" x="440.3" y="176.8"/><use href="#d" x="234.1" y="325.5"/><use href="#d" x="226.9" y="340.2"/><use href="#d" x="170.4" y="392.1"/><use href="#d" x="228.5" y="343.2"/><use href="#d" x="263.6" y="317.8"/><use href="#d" x="160.0" y="406.2"/><use href="#d" x="483.6" y="146.6"/><use href="#d" x="249.0" y="310.9"/><use href="#d" x="196.5" y="362.1"/><use href="#d" x="196.6" y="368.5"/><use href="#d" x="357.5" y="236.4"/><use href="#d" x="449.4" y="167.2"/><use href="#d" x="467.4" y="159.8"/><use href="#d" x="313.3" y="278.9"/><use href="#d" x="175.1" y="375.4"/><use href="#d" x="389.8" y="204.4"/><use href="#d" x="396.4" y="214.6"/><use href="#d" x="224.5" y="351.5"/><use href="#d" x="495.4" y="133.5"/><use href="#d" x="359.8" y="240.5"/><use href="#d" x="183.6" y="373.8"/><use href="#d" x="218.9" y="347.8"/><use href="#d" x="179.8" y="375.6"/><use href="#d" x="403.3" y="203.4"/><use href="#d" x="339.8" y="242.3"/><use href="#d" x="417.5" y="193.4"/><use href="#d" x="226.2" y="328.5"/><use href="#d" x="420.4" y="177.8"/><use href="#d" x="196.5" y="372.0"/><use href="#d" x="151.0" y="395.1"/><use href="#d" x="175.5" y="377.6"/><use href="#d" x="246.8" y="317.2"/><use href="#d" x="237.4" y="323.9"/><use href="#d" x="245.1" y="333.5"/><use href="#d" x="261.9" y="303.7"/><use href="#d" x="237.0" y="321.9"/><use href="#d" x="484.1" y="151.5"/><use href="#d" x="483.7" y="139.7"/><use href="#d" x="153.0" y="411.8"/><use href="#d" x="514.8" y="118.7"/><use href="#d" x="271.9" y="317.4"/><use href="#d" x="349.6" y="247.7"/><use href="#d" x="126.4" y="425.0"/><use href="#d" x="168.5" y="403.0"/><use href="#d" x="455.7" y="167.0"/><use href="#d" x="481.0" y="151.6"/><use href="#d" x="119.7" y="427.0"/><use href="#d" x="174.0" y="376.6"/><use href="#d" x="260.3" y="307.4"/><use href="#d" x="312.3" y="270.0"/><use href="#d" x="244.8" y="337.6"/><use href="#d" x="452.0" y="168.7"/><use href="#d" x="210.0" y="362.9"/><use href="#d" x="128.8" y="425.9"/><use href="#d" x="264.5" y="319.5"/><use href="#d" x="175.6" y="387.7"/><use href="#d" x="225.2" y="337.4"/><use href="#d" x="187.9" y="378.8"/><use href="#d" x="200.7" y="367.9"/><use href="#d" x="327.6" y="257.1"/><use href="#d" x="503.6" y="120.0"/><use href="#d" x="519.7" y="122.1"/><use href="#d" x="283.8" y="296.9"/><use href="#d" x="401.4" y="211.1"/><use href="#d" x="279.4" y="294.9"/><use href="#d" x="181.3" y="380.6"/><use href="#d" x="251.6" y="330.5"/><use href="#d" x="478.1" y="139.0"/><use href="#d" x="308.8" y="276.4"/><use href="#d" x="310.9" y="270.5"/><use href="#d" x="169.3" y="374.8"/><use href="#d" x="185.5" y="362.2"/><use href="#d" x="350.0" y="234.0"/><use href="#d" x="301.4" y="281.2"/><use href="#d" x="323.3" y="264.0"/><use href="#d" x="423.6" y="186.5"/><use href="#d" x="234.6" y="323.6"/><use href="#d" x="321.2" y="263.9"/><use href="#d" x="380.6" y="221.8"/><use href="#d" x="220.7" y="337.7"/><use href="#d" x="523.9" y="127.7"/><use href="#d" x="435.0" y="178.1"/><use href="#d" x="221.9" y="338.5"/><use href="#d" x="333.9" y="248.8"/><use href="#d" x="319.8" y="268.8"/><use href="#d" x="510.5" y="122.0"/><use href="#d" x="154.6" y="398.8"/><use href="#d" x="420.4" y="188.2"/><use href="#d" x="303.8" y="293.0"/><use href="#d" x="525.2" y="124.6"/><use href="#d" x="347.5" y="242.4"/><use href="#d" x="284.0" y="290.7"/><use href="#d" x="245.7" y="331.8"/><use href="#d" x="405.6" y="203.6"/><use href="#d" x="339.4" y="257.3"/><use href="#d" x="418.6" y="195.2"/><use href="#d" x="199.8" y="361.8"/><use href="#d" x="510.5" y="118.9"/><use href="#d" x="283.4" y="300.6"/><use href="#d" x="416.3" y="184.0"/><use href="#d" x="182.4" y="374.7"/><use href="#d" x="497.2" y="134.4"/><use href="#d" x="347.7" y="234.4"/><use href="#d" x="167.5" y="376.4"/><use href="#d" x="239.7" y="328.3"/><use href="#d" x="204.8" y="368.2"/><use href="#d" x="237.2" y="327.3"/><use href="#d" x="353.4" y="230.8"/><use href="#d" x="207.2" y="369.7"/><use href="#d" x="321.3" y="270.0"/><use href="#d" x="401.4" y="211.9"/><use href="#d" x="151.4" y="416.1"/><use href="#d" x="169.9" y="374.1"/><use href="#d" x="473.3" y="160.9"/><use href="#d" x="330.4" y="262.6"/><use href="#d" x="443.6" y="171.9"/><use href="#d" x="135.3" y="414.1"/><use href="#d" x="193.1" y="363.5"/><use href="#d" x="248.2" y="326.0"/><use href="#d" x="402.9" y="193.8"/><use href="#d" x="281.4" y="297.3"/><use href="#d" x="509.1" y="125.6"/><use href="#d" x="521.0" y="123.7"/><use href="#d" x="202.1" y="365.4"/><use href="#d" x="251.3" y="320.5"/><use href="#d" x="407.4" y="199.8"/><use href="#d" x="295.3" y="283.9"/><use href="#d" x="194.6" y="360.9"/><use href="#d" x="339.3" y="243.3"/><use href="#d" x="351.7" y="244.4"/><use href="#d" x="452.1" y="170.9"/><use href="#d" x="174.7" y="391.8"/><use href="#d" x="507.3" y="131.6"/><use href="#d" x="405.0" y="201.0"/><use href="#d" x="435.5" y="179.4"/><use href="#d" x="316.2" y="273.3"/><use href="#d" x="131.4" y="420.0"/><use href="#d" x="437.3" y="182.8"/><use href="#d" x="392.9" y="212.8"/><use href="#d" x="318.0" y="265.2"/><use href="#d" x="376.5" y="222.3"/><use href="#d" x="466.9" y="157.0"/><use href="#d" x="299.8" y="285.7"/><use href="#d" x="474.5" y="156.8"/><use href="#d" x="317.4" y="278.5"/><use href="#d" x="265.2" y="310.1"/><use href="#d" x="167.8" y="378.6"/><use href="#d" x="199.7" y="351.3"/><use href="#d" x="403.1" y="191.4"/><use href="#d" x="397.9" y="195.7"/><use href="#d" x="317.9" y="259.5"/><use href="#d" x="456.0" y="157.7"/><use href="#d" x="378.0" y="223.5"/><use href="#d" x="513.4" y="128.1"/><use href="#d" x="478.0" y="155.9"/><use href="#d" x="178.1" y="370.3"/><use href="#d" x="179.1" y="391.3"/><use href="#d" x="535.3" y="124.4"/><use href="#d" x="339.3" y="248.9"/><use href="#d" x="191.0" y="367.1"/><use href="#d" x="208.7" y="351.7"/><use href="#d" x="134.2" y="409.5"/><use href="#d" x="146.7" y="416.3"/><use href="#d" x="199.8" y="362.6"/><use href="#d" x="115.2" y="427.4"/><use href="#d" x="188.9" y="360.0"/><use href="#d" x="325.4" y="263.8"/><use href="#d" x="273.5" y="294.7"/><use href="#d" x="426.4" y="180.2"/><use href="#d" x="379.7" y="226.0"/><use href="#d" x="357.8" y="243.3"/><use href="#d" x="483.3" y="142.2"/><use href="#d" x="291.6" y="287.8"/><use href="#d" x="453.9" y="161.6"/><use href="#d" x="298.1" y="295.1"/><use href="#d" x="512.3" y="122.5"/><use href="#d" x="422.7" y="186.9"/><use href="#d" x="229.4" y="326.7"/><use href="#d" x="474.9" y="154.9"/><use href="#d" x="409.2" y="205.0"/><use href="#d" x="394.8" y="215.5"/><use href="#d" x="176.8" y="374.7"/><use href="#d" x="259.9" y="328.1"/><use href="#d" x="481.5" y="138.1"/><use href="#d" x="289.6" y="297.1"/><use href="#d" x="259.3" y="307.4"/><use href="#d" x="185.9" y="374.6"/><use href="#d" x="430.8" y="172.2"/><use href="#d" x="441.8" y="173.9"/><use href="#d" x="363.1" y="234.0"/><use href="#d" x="347.1" y="251.4"/><use href="#d" x="494.7" y="132.5"/><use href="#d" x="122.5" y="428.0"/><use href="#d" x="326.0" y="269.3"/><use href="#d" x="249.2" y="325.4"/><use href="#d" x="152.2" y="411.8"/><use href="#d" x="505.2" y="134.4"/><use href="#d" x="367.5" y="233.4"/><use href="#d" x="323.6" y="277.2"/><use href="#d" x="459.4" y="149.7"/><use href="#d" x="393.5" y="210.5"/><use href="#d" x="327.2" y="267.2"/><use href="#d" x="304.3" y="274.6"/><use href="#d" x="450.6" y="169.8"/><use href="#d" x="331.3" y="259.2"/><use href="#d" x="255.3" y="322.5"/><use href="#d" x="277.0" y="297.0"/><use href="#d" x="392.7" y="216.0"/><use href="#d" x="514.0" y="120.0"/><use href="#d" x="327.1" y="261.1"/><use href="#d" x="151.3" y="406.5"/><use href="#d" x="365.8" y="239.6"/><use href="#d" x="259.9" y="318.3"/><use href="#d" x="392.6" y="211.2"/><use href="#d" x="447.4" y="162.0"/><use href="#d" x="348.2" y="237.8"/><use href="#d" x="136.8" y="410.4"/><use href="#d" x="491.4" y="130.2"/><use href="#d" x="168.8" y="385.1"/><use href="#d" x="121.1" y="423.2"/><use href="#d" x="115.1" y="428.1"/><use href="#d" x="194.1" y="355.9"/><use href="#d" x="429.7" y="171.8"/><use href="#d" x="247.5" y="315.8"/><use href="#d" x="135.0" y="411.5"/><use href="#d" x="314.3" y="271.5"/><use href="#d" x="446.5" y="156.6"/><use href="#d" x="321.8" y="257.9"/><use href="#d" x="360.7" y="224.9"/><use href="#d" x="349.7" y="234.1"/><use href="#d" x="462.4" y="153.6"/><use href="#d" x="335.4" y="260.8"/><use href="#d" x="217.2" y="336.7"/><use href="#d" x="287.4" y="300.5"/><use href="#d" x="436.3" y="175.5"/><use href="#d" x="469.3" y="150.6"/><use href="#d" x="365.9" y="240.3"/><use href="#d" x="344.5" y="257.3"/><use href="#d" x="224.9" y="351.2"/><use href="#d" x="246.1" y="325.4"/><use href="#d" x="165.8" y="385.6"/><use href="#d" x="186.4" y="371.4"/><use href="#d" x="402.2" y="209.1"/><use href="#d" x="415.5" y="197.1"/><use href="#d" x="350.0" y="234.8"/><use href="#d" x="449.3" y="169.4"/><use href="#d" x="117.0" y="426.6"/><use href="#d" x="489.8" y="141.2"/><use href="#d" x="314.9" y="269.4"/><use href="#d" x="255.8" y="316.2"/><use href="#d" x="379.7" y="217.1"/><use href="#d" x="461.5" y="166.3"/><use href="#d" x="185.7" y="373.2"/><use href="#d" x="128.3" y="427.8"/><use href="#d" x="462.0" y="143.9"/><use href="#d" x="406.7" y="205.7"/><use href="#d" x="127.4" y="424.3"/><use href="#d" x="495.0" y="133.0"/><use href="#d" x="312.1" y="270.2"/><use href="#d" x="295.2" y="295.4"/><use href="#d" x="511.1" y="126.7"/><use href="#d" x="197.2" y="362.0"/><use href="#d" x="206.4" y="363.0"/><use href="#d" x="233.1" y="328.0"/><use href="#d" x="276.2" y="300.6"/><use href="#d" x="210.1" y="344.8"/><use href="#d" x="119.2" y="421.5"/><use href="#d" x="252.5" y="328.7"/><use href="#d" x="205.6" y="368.3"/><use href="#d" x="462.6" y="167.7"/><use href="#d" x="410.9" y="196.9"/><use href="#d" x="323.1" y="277.4"/><use href="#d" x="183.8" y="367.5"/><use href="#d" x="220.6" y="342.9"/><use href="#d" x="341.1" y="248.4"/><use href="#d" x="136.2" y="410.5"/><use href="#d" x="527.8" y="122.6"/><use href="#d" x="242.5" y="322.4"/><use href="#d" x="358.9" y="238.9"/><use href="#d" x="337.5" y="254.2"/><use href="#d" x="305.4" y="271.5"/><use href="#d" x="316.6" y="255.9"/><use href="#d" x="280.0" y="288.9"/><use href="#d" x="203.1" y="357.2"/><use href="#d" x="155.0" y="393.6"/><use href="#d" x="488.9" y="134.2"/><use href="#d" x="197.4" y="371.0"/><use href="#d" x="272.9" y="299.5"/><use href="#d" x="530.7" y="123.3"/><use href="#d" x="299.8" y="288.7"/><use href="#d" x="496.2" y="139.4"/><use href="#d" x="233.8" y="330.8"/><use href="#d" x="196.4" y="353.9"/><use href="#d" x="336.2" y="256.1"/><use href="#d" x="348.1" y="243.2"/><use href="#d" x="458.2" y="149.4"/><use href="#d" x="299.9" y="292.2"/><use href="#d" x="509.3" y="115.5"/><use href="#d" x="263.1" y="311.9"/><use href="#d" x="223.0" y="343.6"/><use href="#d" x="324.6" y="258.6"/><use href="#d" x="154.1" y="405.9"/><use href="#d" x="488.1" y="133.2"/><use href="#d" x="172.2" y="387.5"/><use href="#d" x="452.2" y="164.5"/><use href="#d" x="234.6" y="336.0"/><use href="#d" x="254.6" y="325.3"/><use href="#d" x="223.9" y="348.5"/><use href="#d" x="347.2" y="238.6"/><use href="#d" x="129.7" y="414.6"/><use href="#d" x="456.0" y="168.1"/><use href="#d" x="293.9" y="293.1"/><use href="#d" x="360.8" y="237.4"/><use href="#d" x="183.9" y="360.5"/><use href="#d" x="407.6" y="197.2"/><use href="#d" x="517.4" y="119.8"/><use href="#d" x="448.4" y="162.2"/><use href="#d" x="189.0" y="362.8"/><use href="#d" x="317.8" y="266.5"/><use href="#d" x="371.7" y="237.0"/><use href="#d" x="168.5" y="394.8"/><use href="#d" x="478.3" y="141.0"/><use href="#d" x="223.8" y="331.8"/><use href="#d" x="197.0" y="354.8"/><use href="#d" x="416.4" y="197.2"/><use href="#d" x="485.0" y="128.9"/><use href="#d" x="278.2" y="306.9"/><use href="#d" x="353.5" y="233.4"/><use href="#d" x="158.9" y="389.6"/><use href="#d" x="407.6" y="197.2"/><use href="#d" x="289.4" y="293.4"/><use href="#d" x="154.3" y="397.2"/><use href="#d" x="183.0" y="369.1"/><use href="#d" x="316.9" y="265.1"/><use href="#d" x="330.0" y="268.2"/><use href="#d" x="143.8" y="407.1"/><use href="#d" x="401.6" y="191.1"/><use href="#d" x="360.6" y="244.5"/><use href="#d" x="243.6" y="335.5"/><use href="#d" x="246.0" y="318.5"/><use href="#d" x="367.9" y="230.1"/><use href="#d" x="317.1" y="270.6"/><use href="#d" x="305.6" y="289.3"/><use href="#d" x="206.2" y="366.0"/><use href="#d" x="171.3" y="376.2"/><use href="#d" x="327.2" y="256.0"/><use href="#d" x="332.3" y="268.5"/><use href="#d" x="385.8" y="211.5"/><use href="#d" x="268.1" y="298.6"/><use href="#d" x="143.6" y="409.8"/><use href="#d" x="345.5" y="258.0"/><use href="#d" x="517.1" y="120.5"/><use href="#d" x="458.6" y="150.9"/><use href="#d" x="367.8" y="229.9"/><use href="#d" x="242.7" y="320.5"/><use href="#d" x="255.8" y="312.6"/><use href="#d" x="352.0" y="244.9"/><use href="#d" x="253.1" y="327.7"/><use href="#d" x="177.8" y="390.4"/><use href="#d" x="457.5" y="153.9"/><use href="#d" x="284.5" y="299.3"/><use href="#d" x="323.1" y="274.9"/><use href="#d" x="437.6" y="182.4"/><use href="#d" x="449.1" y="154.9"/><use href="#d" x="399.9" y="215.1"/><use href="#d" x="212.8" y="359.0"/><use href="#d" x="243.6" y="329.6"/><use href="#d" x="347.2" y="245.9"/><use href="#d" x="481.2" y="129.7"/><use href="#d" x="248.1" y="334.1"/><use href="#d" x="458.1" y="167.3"/><use href="#d" x="261.0" y="325.2"/><use href="#d" x="289.5" y="285.1"/><use href="#d" x="450.5" y="174.2"/><use href="#d" x="483.1" y="138.0"/><use href="#d" x="291.9" y="283.4"/><use href="#d" x="399.9" y="203.4"/><use href="#d" x="424.3" y="181.4"/><use href="#d" x="487.2" y="142.9"/><use href="#d" x="224.1" y="338.2"/><use href="#d" x="121.5" y="421.3"/><use href="#d" x="297.2" y="290.3"/><use href="#d" x="147.4" y="415.1"/><use href="#d" x="161.1" y="386.6"/><use href="#d" x="514.9" y="129.0"/><use href="#d" x="527.1" y="128.6"/><use href="#d" x="351.7" y="239.3"/><use href="#d" x="352.3" y="234.6"/><use href="#d" x="181.0" y="379.1"/><use href="#d" x="517.2" y="126.7"/><use href="#d" x="193.9" y="366.0"/><use href="#d" x="447.1" y="161.2"/><use href="#d" x="406.9" y="194.6"/><use href="#d" x="342.9" y="239.2"/><use href="#d" x="253.0" y="317.5"/><use href="#d" x="527.4" y="128.4"/><use href="#d" x="456.3" y="168.8"/><use href="#d" x="434.1" y="185.0"/><use href="#d" x="465.0" y="145.6"/><use href="#d" x="208.0" y="362.0"/><use href="#d" x="383.8" y="222.3"/><use href="#d" x="170.0" y="385.2"/><use href="#d" x="416.4" y="193.0"/><use href="#d" x="321.8" y="268.6"/><use href="#d" x="172.3" y="384.9"/><use href="#d" x="396.9" y="212.4"/><use href="#d" x="441.8" y="168.8"/><use href="#d" x="520.6" y="130.6"/><use href="#d" x="225.7" y="336.7"/><use href="#d" x="194.8" y="368.0"/><use href="#d" x="278.2" y="298.7"/><use href="#d" x="371.0" y="239.0"/><use href="#d" x="382.4" y="224.0"/><use href="#d" x="358.8" y="236.2"/><use href="#d" x="194.7" y="357.1"/><use href="#d" x="267.1" y="298.8"/><use href="#d" x="147.6" y="410.7"/><use href="#d" x="300.3" y="296.9"/><use href="#d" x="248.4" y="325.3"/><use href="#d" x="265.1" y="307.5"/><use href="#d" x="129.6" y="416.9"/><use href="#d" x="427.9" y="193.7"/><use href="#d" x="388.1" y="206.7"/><use href="#d" x="370.3" y="234.9"/><use href="#d" x="276.0" y="311.6"/><use href="#d" x="395.5" y="208.6"/><use href="#d" x="134.2" y="413.6"/><use href="#d" x="524.7" y="130.0"/><use href="#d" x="271.1" y="316.2"/><use href="#d" x="413.1" y="196.2"/><use href="#d" x="230.6" y="339.7"/><use href="#d" x="212.9" y="362.3"/><use href="#d" x="461.7" y="168.5"/><use href="#d" x="187.6" y="363.8"/><use href="#d" x="172.3" y="399.9"/><use href="#d" x="423.8" y="186.0"/><use href="#d" x="352.0" y="249.3"/><use href="#d" x="327.6" y="265.5"/><use href="#d" x="195.0" y="353.7"/><use href="#d" x="124.7" y="426.9"/><use href="#d" x="473.6" y="141.0"/><use href="#d" x="189.3" y="364.8"/><use href="#d" x="230.3" y="345.1"/><use href="#d" x="213.5" y="344.1"/><use href="#d" x="407.3" y="203.4"/><use href="#d" x="176.3" y="370.6"/><use href="#d" x="400.5" y="196.5"/><use href="#d" x="356.3" y="241.8"/><use href="#d" x="324.0" y="262.1"/><use href="#d" x="412.2" y="192.2"/><use href="#d" x="211.0" y="342.8"/><use href="#d" x="444.3" y="170.5"/><use href="#d" x="179.3" y="370.7"/><use href="#d" x="148.4" y="408.6"/><use href="#d" x="245.0" y="320.2"/><use href="#d" x="145.0" y="414.5"/><use href="#d" x="133.1" y="422.3"/><use href="#d" x="344.8" y="238.7"/><use href="#d" x="398.5" y="212.9"/><use href="#d" x="524.3" y="124.6"/><use href="#d" x="159.2" y="395.2"/><use href="#d" x="521.5" y="131.2"/><use href="#d" x="150.1" y="417.0"/><use href="#d" x="471.3" y="151.3"/><use href="#d" x="294.7" y="298.0"/><use href="#d" x="362.0" y="243.9"/><use href="#d" x="186.6" y="372.9"/><use href="#d" x="259.6" y="309.3"/><use href="#d" x="198.8" y="356.4"/><use href="#d" x="178.1" y="379.8"/><use href="#d" x="267.3" y="316.3"/><use href="#d" x="395.7" y="211.0"/><use href="#d" x="304.4" y="287.2"/><use href="#d" x="312.5" y="269.8"/><use href="#d" x="209.9" y="351.3"/><use href="#d" x="269.0" y="305.2"/><use href="#d" x="485.7" y="138.8"/><use href="#d" x="154.5" y="392.7"/><use href="#d" x="239.4" y="323.5"/><use href="#d" x="298.9" y="280.1"/><use href="#d" x="441.6" y="176.7"/><use href="#d" x="333.5" y="247.6"/><use href="#d" x="146.9" y="414.5"/><use href="#d" x="395.9" y="216.8"/><use href="#d" x="167.1" y="392.9"/><use href="#d" x="150.1" y="404.4"/><use href="#d" x="266.0" y="303.9"/><use href="#d" x="287.6" y="292.5"/><use href="#d" x="150.9" y="407.9"/><use href="#d" x="134.4" y="422.4"/><use href="#d" x="116.4" y="425.3"/><use href="#d" x="309.4" y="272.0"/><use href="#d" x="263.2" y="312.2"/><use href="#d" x="179.4" y="375.4"/><use href="#d" x="370.5" y="228.9"/><use href="#d" x="157.6" y="401.3"/><use href="#d" x="203.7" y="361.9"/><use href="#d" x="246.5" y="333.1"/><use href="#d" x="254.4" y="328.7"/><use href="#d" x="254.8" y="329.1"/><use href="#d" x="445.4" y="164.4"/><use href="#d" x="235.1" y="322.8"/><use href="#d" x="466.6" y="165.8"/><use href="#d" x="389.7" y="220.9"/><use href="#d" x="297.7" y="291.5"/><use href="#d" x="277.6" y="291.8"/><use href="#d" x="173.0" y="380.6"/><use href="#d" x="458.5" y="155.6"/><use href="#d" x="207.8" y="356.8"/><use href="#d" x="252.9" y="323.9"/><use href="#d" x="228.9" y="341.2"/><use href="#d" x="452.3" y="156.5"/><use href="#d" x="201.7" y="362.5"/><use href="#d" x="473.4" y="148.7"/><use href="#d" x="326.9" y="275.8"/><use href="#d" x="407.9" y="207.8"/><use href="#d" x="413.9" y="200.0"/><use href="#d" x="192.2" y="373.0"/><use href="#d" x="452.2" y="162.6"/><use href="#d" x="296.8" y="282.7"/><use href="#d" x="171.0" y="399.0"/><use href="#d" x="339.0" y="261.0"/><use href="#d" x="320.2" y="256.4"/><use href="#d" x="430.5" y="182.5"/><use href="#d" x="267.4" y="302.2"/><use href="#d" x="202.2" y="351.6"/><use href="#d" x="214.0" y="354.4"/><use href="#d" x="292.8" y="287.1"/><use href="#d" x="483.9" y="134.3"/><use href="#d" x="378.8" y="224.6"/><use href="#d" x="535.4" y="124.9"/><use href="#d" x="527.7" y="122.4"/><use href="#d" x="188.7" y="356.9"/><use href="#d" x="128.7" y="426.2"/><use href="#d" x="280.5" y="288.6"/><use href="#d" x="324.3" y="267.8"/><use href="#d" x="158.2" y="406.6"/><use href="#d" x="301.6" y="276.7"/><use href="#d" x="392.8" y="206.6"/><use href="#d" x="309.0" y="263.4"/><use href="#d" x="259.0" y="312.5"/><use href="#d" x="189.9" y="374.2"/><use href="#d" x="288.3" y="289.6"/><use href="#d" x="330.3" y="249.3"/><use href="#d" x="521.0" y="126.9"/><use href="#d" x="154.5" y="395.9"/><use href="#d" x="197.5" y="361.8"/><use href="#d" x="196.1" y="358.5"/><use href="#d" x="286.0" y="287.5"/><use href="#d" x="425.8" y="183.2"/><use href="#d" x="465.7" y="149.9"/><use href="#d" x="503.0" y="124.4"/><use href="#d" x="360.3" y="226.9"/><use href="#d" x="520.8" y="124.3"/><use href="#d" x="343.0" y="238.2"/><use href="#d" x="435.9" y="178.5"/><use href="#d" x="432.1" y="179.0"/><use href="#d" x="470.1" y="151.5"/><use href="#d" x="354.6" y="246.4"/><use href="#d" x="151.4" y="405.7"/><use href="#d" x="170.5" y="399.9"/><use href="#d" x="256.6" y="312.8"/><use href="#d" x="139.2" y="405.7"/><use href="#d" x="266.5" y="299.5"/><use href="#d" x="197.0" y="354.1"/><use href="#d" x="332.0" y="264.8"/><use href="#d" x="448.1" y="156.2"/><use href="#d" x="379.2" y="226.4"/><use href="#d" x="402.4" y="199.8"/><use href="#d" x="307.1" y="274.7"/><use href="#d" x="223.4" y="342.2"/><use href="#d" x="290.9" y="293.2"/><use href="#d" x="147.0" y="401.2"/><use href="#d" x="160.7" y="396.2"/><use href="#d" x="463.3" y="155.2"/><use href="#d" x="468.8" y="146.5"/><use href="#d" x="249.5" y="323.4"/><use href="#d" x="489.5" y="149.7"/><use href="#d" x="380.1" y="229.5"/><use href="#d" x="178.8" y="365.8"/><use href="#d" x="235.3" y="339.7"/><use href="#d" x="362.5" y="236.7"/><use href="#d" x="495.7" y="135.7"/><use href="#d" x="312.0" y="257.5"/><use href="#d" x="524.2" y="133.0"/><use href="#d" x="497.2" y="128.9"/><use href="#d" x="320.9" y="267.9"/><use href="#d" x="373.1" y="224.7"/><use href="#d" x="486.9" y="150.0"/><use href="#d" x="407.2" y="200.4"/><use href="#d" x="210.8" y="359.0"/><use href="#d" x="406.1" y="188.9"/><use href="#d" x="409.3" y="192.9"/><use href="#d" x="200.1" y="368.1"/><use href="#d" x="466.9" y="145.1"/><use href="#d" x="468.7" y="158.8"/><use href="#d" x="427.2" y="186.7"/><use href="#d" x="189.8" y="367.0"/><use href="#d" x="433.4" y="188.5"/><use href="#d" x="302.9" y="289.3"/><use href="#d" x="483.4" y="128.4"/><use href="#d" x="276.9" y="304.1"/><use href="#d" x="418.2" y="189.8"/><use href="#d" x="383.3" y="210.8"/><use href="#d" x="360.3" y="226.9"/><use href="#d" x="504.1" y="123.6"/><use href="#d" x="160.1" y="407.4"/><use href="#d" x="362.9" y="238.4"/><use href="#d" x="186.4" y="381.3"/><use href="#d" x="133.0" y="413.2"/><use href="#d" x="211.5" y="343.5"/><use href="#d" x="169.0" y="398.3"/><use href="#d" x="247.8" y="331.3"/><use href="#d" x="267.3" y="319.4"/><use href="#d" x="213.8" y="364.4"/><use href="#d" x="459.5" y="146.2"/><use href="#d" x="122.8" y="424.3"/><use href="#d" x="369.0" y="237.2"/><use href="#d" x="233.5" y="321.8"/><use href="#d" x="505.4" y="120.2"/><use href="#d" x="313.9" y="278.8"/><use href="#d" x="266.2" y="298.3"/><use href="#d" x="372.4" y="230.7"/><use href="#d" x="370.4" y="226.3"/><use href="#d" x="348.2" y="248.6"/><use href="#d" x="489.6" y="128.9"/><use href="#d" x="167.5" y="386.1"/><use href="#d" x="122.4" y="418.4"/><use href="#d" x="505.2" y="122.2"/><use href="#d" x="182.4" y="382.3"/><use href="#d" x="439.7" y="169.9"/><use href="#d" x="477.1" y="151.6"/><use href="#d" x="351.9" y="231.8"/><use href="#d" x="177.0" y="392.4"/><use href="#d" x="283.3" y="302.3"/><use href="#d" x="185.2" y="364.8"/><use href="#d" x="241.7" y="334.7"/><use href="#d" x="475.2" y="146.3"/><use href="#d" x="298.5" y="294.1"/><use href="#d" x="181.4" y="368.1"/><use href="#d" x="444.0" y="165.1"/><use href="#d" x="152.4" y="406.2"/><use href="#d" x="231.4" y="339.4"/><use href="#d" x="493.5" y="131.4"/><use href="#d" x="493.7" y="144.9"/><use href="#d" x="177.8" y="392.3"/><use href="#d" x="255.2" y="308.3"/><use href="#d" x="460.1" y="156.7"/><use href="#d" x="267.8" y="306.5"/><use href="#d" x="486.1" y="126.5"/><use href="#d" x="122.6" y="424.3"/><use href="#d" x="149.7" y="406.7"/><use href="#d" x="296.2" y="277.8"/><use href="#d" x="234.9" y="331.9"/><use href="#d" x="255.6" y="316.9"/><use href="#d" x="536.7" y="124.0"/><use href="#d" x="207.2" y="356.2"/><use href="#d" x="137.0" y="411.8"/><use href="#d" x="450.8" y="160.1"/><use href="#d" x="411.2" y="184.6"/><use href="#d" x="314.1" y="276.7"/><use href="#d" x="122.3" y="425.4"/><use href="#d" x="449.6" y="168.9"/><use href="#d" x="151.5" y="396.1"/><use href="#d" x="451.7" y="157.6"/><use href="#d" x="465.8" y="159.2"/><use href="#d" x="217.5" y="362.5"/><use href="#d" x="142.9" y="409.2"/><use href="#d" x="130.8" y="416.9"/><use href="#d" x="229.7" y="336.9"/><use href="#d" x="498.7" y="140.6"/><use href="#d" x="322.9" y="262.6"/><use href="#d" x="384.6" y="218.6"/><use href="#d" x="315.3" y="279.7"/><use href="#d" x="509.1" y="124.2"/><use href="#d" x="246.0" y="331.0"/><use href="#d" x="490.9" y="146.8"/><use href="#d" x="434.9" y="181.9"/><use href="#d" x="432.4" y="180.1"/><use href="#d" x="249.5" y="318.1"/><use href="#d" x="165.5" y="380.4"/><use href="#d" x="429.9" y="173.4"/><use href="#d" x="250.8" y="326.5"/><use href="#d" x="373.2" y="225.0"/><use href="#d" x="254.1" y="315.6"/><use href="#d" x="256.5" y="329.6"/><use href="#d" x="520.5" y="127.9"/><use href="#d" x="149.8" y="406.2"/><use href="#d" x="294.1" y="292.0"/><use href="#d" x="287.7" y="286.6"/><use href="#d" x="136.0" y="416.3"/><use href="#d" x="312.1" y="265.6"/><use href="#d" x="188.4" y="366.1"/><use href="#d" x="154.2" y="410.6"/><use href="#d" x="211.8" y="342.9"/><use href="#d" x="186.3" y="378.7"/><use href="#d" x="337.0" y="258.0"/><use href="#d" x="263.6" y="313.9"/><use href="#d" x="295.3" y="286.4"/><use href="#d" x="147.2" y="409.3"/><use href="#d" x="134.1" y="411.6"/><use href="#d" x="391.2" y="214.1"/><use href="#d" x="452.0" y="158.7"/><use href="#d" x="392.0" y="205.0"/><use href="#d" x="181.9" y="382.3"/><use href="#d" x="466.3" y="146.1"/><use href="#d" x="122.8" y="423.5"/><use href="#d" x="334.5" y="260.0"/><use href="#d" x="449.6" y="159.0"/><use href="#d" x="470.5" y="161.0"/><use href="#d" x="212.5" y="343.4"/><use href="#d" x="502.1" y="130.4"/><use href="#d" x="343.0" y="248.4"/><use href="#d" x="425.3" y="184.1"/><use href="#d" x="149.5" y="408.0"/><use href="#d" x="383.2" y="211.2"/><use href="#d" x="452.9" y="168.7"/><use href="#d" x="259.3" y="315.3"/><use href="#d" x="135.8" y="413.2"/><use href="#d" x="222.4" y="350.3"/><use href="#d" x="185.6" y="371.7"/><use href="#d" x="197.6" y="366.7"/><use href="#d" x="325.7" y="251.6"/><use href="#d" x="277.1" y="292.2"/><use href="#d" x="448.4" y="156.6"/><use href="#d" x="235.3" y="337.0"/><use href="#d" x="253.5" y="325.4"/><use href="#d" x="477.4" y="149.0"/><use href="#d" x="231.5" y="336.9"/><use href="#d" x="532.4" y="126.6"/><use href="#d" x="206.6" y="352.4"/><use href="#d" x="197.7" y="359.2"/><use href="#d" x="339.3" y="240.6"/><use href="#d" x="451.8" y="158.9"/><use href="#d" x="414.1" y="190.3"/><use href="#d" x="147.5" y="417.9"/><use href="#d" x="299.0" y="289.3"/><use href="#d" x="235.7" y="331.2"/><use href="#d" x="461.8" y="150.6"/><use href="#d" x="288.2" y="286.6"/><use href="#d" x="185.6" y="365.3"/><use href="#d" x="262.6" y="319.3"/><use href="#d" x="308.7" y="284.2"/><use href="#d" x="230.6" y="344.1"/><use href="#d" x="319.7" y="260.4"/><use href="#d" x="378.9" y="223.3"/><use href="#d" x="478.0" y="153.0"/><use href="#d" x="273.2" y="308.2"/><use href="#d" x="294.9" y="296.2"/><use href="#d" x="167.6" y="391.0"/><use href="#d" x="247.5" y="319.5"/><use href="#d" x="419.1" y="190.3"/><use href="#d" x="326.8" y="267.8"/><use href="#d" x="300.3" y="285.7"/><use href="#d" x="435.1" y="174.8"/><use href="#d" x="492.9" y="130.9"/><use href="#d" x="280.0" y="305.4"/><use href="#d" x="207.3" y="363.6"/><use href="#d" x="204.8" y="365.4"/><use href="#d" x="193.9" y="360.0"/><use href="#d" x="473.3" y="152.8"/><use href="#d" x="341.4" y="248.1"/><use href="#d" x="162.6" y="387.8"/><use href="#d" x="149.8" y="413.0"/><use href="#d" x="245.6" y="318.8"/><use href="#d" x="160.0" y="406.0"/><use href="#d" x="268.9" y="313.9"/><use href="#d" x="175.4" y="390.0"/><use href="#d" x="158.9" y="388.8"/><use href="#d" x="280.8" y="299.2"/><use href="#d" x="189.1" y="368.6"/><use href="#d" x="332.5" y="254.4"/><use href="#d" x="399.3" y="204.9"/><use href="#d" x="133.7" y="414.6"/><use href="#d" x="381.7" y="220.8"/><use href="#d" x="340.5" y="243.5"/><use href="#d" x="501.0" y="129.3"/><use href="#d" x="519.7" y="122.1"/><use href="#d" x="214.6" y="359.1"/><use href="#d" x="423.5" y="183.5"/><use href="#d" x="488.7" y="136.3"/><use href="#d" x="432.4" y="173.1"/><use href="#d" x="438.6" y="167.7"/><use href="#d" x="531.4" y="126.2"/><use href="#d" x="437.2" y="177.3"/><use href="#d" x="452.0" y="156.7"/><use href="#d" x="273.8" y="310.5"/><use href="#d" x="127.5" y="414.4"/><use href="#d" x="355.8" y="235.0"/><use href="#d" x="374.4" y="233.4"/><use href="#d" x="295.7" y="285.4"/><use href="#d" x="216.8" y="361.2"/><use href="#d" x="215.6" y="344.1"/><use href="#d" x="201.0" y="357.0"/><use href="#d" x="123.8" y="428.1"/><use href="#d" x="197.2" y="366.0"/><use href="#d" x="241.7" y="327.7"/><use href="#d" x="126.1" y="417.0"/><use href="#d" x="484.9" y="136.6"/><use href="#d" x="178.9" y="365.5"/><use href="#d" x="305.6" y="281.4"/><use href="#d" x="344.5" y="254.9"/><use href="#d" x="363.8" y="227.8"/><use href="#d" x="219.4" y="339.9"/><use href="#d" x="528.7" y="124.8"/><use href="#d" x="427.1" y="187.4"/><use href="#d" x="323.8" y="266.2"/><use href="#d" x="226.5" y="340.8"/><use href="#d" x="406.1" y="197.1"/><use href="#d" x="197.8" y="356.7"/><use href="#d" x="467.5" y="154.2"/><use href="#d" x="258.7" y="309.4"/><use href="#d" x="276.0" y="309.1"/><use href="#d" x="179.3" y="365.7"/><use href="#d" x="149.3" y="398.5"/><use href="#d" x="407.6" y="206.7"/><use href="#d" x="306.4" y="279.0"/><use href="#d" x="394.7" y="214.5"/><use href="#d" x="297.0" y="281.1"/><use href="#d" x="339.5" y="253.9"/><use href="#d" x="162.5" y="392.1"/><use href="#d" x="330.4" y="271.6"/><use href="#d" x="432.1" y="186.3"/><use href="#d" x="256.5" y="311.1"/><use href="#d" x="256.8" y="310.2"/><use href="#d" x="322.8" y="271.6"/><use href="#d" x="502.4" y="135.2"/><use href="#d" x="241.1" y="334.2"/><use href="#d" x="403.4" y="196.3"/><use href="#d" x="534.8" y="120.6"/><use href="#d" x="270.6" y="318.4"/><use href="#d" x="416.7" y="182.5"/><use href="#d" x="333.2" y="252.9"/><use href="#d" x="471.5" y="145.8"/><use href="#d" x="302.0" y="293.8"/><use href="#d" x="152.0" y="417.6"/><use href="#d" x="354.5" y="245.1"/><use href="#d" x="412.7" y="183.0"/><use href="#d" x="508.4" y="128.3"/><use href="#d" x="147.0" y="398.5"/><use href="#d" x="143.7" y="404.1"/><use href="#d" x="366.9" y="227.7"/><use href="#d" x="414.2" y="181.5"/><use href="#d" x="399.2" y="196.2"/><use href="#d" x="296.9" y="276.9"/><use href="#d" x="146.9" y="399.0"/><use href="#d" x="192.9" y="360.1"/><use href="#d" x="254.0" y="311.9"/><use href="#d" x="457.4" y="155.4"/><use href="#d" x="513.5" y="129.7"/><use href="#d" x="506.4" y="124.2"/><use href="#d" x="254.8" y="321.9"/><use href="#d" x="523.6" y="127.4"/><use href="#d" x="154.1" y="405.2"/><use href="#d" x="235.5" y="324.3"/><use href="#d" x="364.4" y="238.6"/><use href="#d" x="405.4" y="197.1"/><use href="#d" x="452.7" y="167.7"/><use href="#d" x="499.1" y="131.0"/><use href="#d" x="317.9" y="271.3"/><use href="#d" x="163.4" y="381.9"/><use href="#d" x="157.6" y="409.3"/><use href="#d" x="350.5" y="233.2"/><use href="#d" x="447.6" y="161.3"/><use href="#d" x="161.5" y="395.1"/><use href="#d" x="337.2" y="247.3"/><use href="#d" x="199.3" y="352.4"/><use href="#d" x="293.5" y="296.5"/><use href="#d" x="460.1" y="149.2"/><use href="#d" x="212.4" y="354.9"/><use href="#d" x="439.5" y="165.8"/><use href="#d" x="206.9" y="352.6"/><use href="#d" x="376.3" y="228.6"/><use href="#d" x="165.8" y="401.3"/><use href="#d" x="289.2" y="292.3"/><use href="#d" x="506.4" y="126.4"/><use href="#d" x="149.9" y="400.9"/><use href="#d" x="307.2" y="269.3"/><use href="#d" x="202.4" y="352.8"/><use href="#d" x="149.5" y="408.0"/><use href="#d" x="346.2" y="250.8"/><use href="#d" x="534.9" y="124.1"/><use href="#d" x="445.6" y="161.5"/><use href="#d" x="243.7" y="328.9"/><use href="#d" x="408.5" y="200.3"/><use href="#d" x="407.2" y="203.6"/><use href="#d" x="224.3" y="334.9"/><use href="#d" x="529.0" y="120.1"/><use href="#d" x="394.1" y="209.3"/><use href="#d" x="160.2" y="398.9"/><use href="#d" x="165.9" y="395.2"/><use href="#d" x="500.1" y="124.9"/><use href="#d" x="453.9" y="168.4"/><use href="#d" x="158.3" y="406.7"/><use href="#d" x="509.1" y="126.9"/><use href="#d" x="270.3" y="305.4"/><use href="#d" x="174.4" y="391.3"/><use href="#d" x="475.9" y="145.1"/><use href="#d" x="125.3" y="417.1"/><use href="#d" x="499.6" y="138.8"/><use href="#d" x="118.7" y="425.1"/><use href="#d" x="291.7" y="283.4"/><use href="#d" x="286.1" y="287.2"/><use href="#d" x="363.5" y="241.1"/><use href="#d" x="388.9" y="206.8"/><use href="#d" x="250.8" y="326.8"/><use href="#d" x="503.8" y="121.9"/><use href="#d" x="346.0" y="244.6"/><use href="#d" x="348.5" y="250.9"/><use href="#d" x="452.5" y="159.9"/><use href="#d" x="334.2" y="254.9"/><use href="#d" x="313.0" y="256.1"/><use href="#d" x="379.1" y="216.4"/><use href="#d" x="232.6" y="327.4"/><use href="#d" x="402.3" y="205.8"/><use href="#d" x="220.2" y="332.7"/><use href="#d" x="165.2" y="385.9"/><use href="#d" x="190.7" y="373.9"/><use href="#d" x="186.5" y="368.0"/><use href="#d" x="158.3" y="389.3"/><use href="#d" x="474.1" y="157.5"/><use href="#d" x="151.0" y="398.7"/><use href="#d" x="305.5" y="275.2"/><use href="#d" x="180.8" y="366.1"/><use href="#d" x="219.9" y="349.0"/><use href="#d" x="255.6" y="321.2"/><use href="#d" x="251.1" y="328.3"/><use href="#d" x="503.3" y="131.9"/><use href="#d" x="483.5" y="139.4"/><use href="#d" x="334.4" y="253.0"/><use href="#d" x="123.7" y="421.5"/><use href="#d" x="152.3" y="413.8"/><use href="#d" x="487.0" y="135.2"/><use href="#d" x="356.8" y="233.2"/><use href="#d" x="208.4" y="360.6"/><use href="#d" x="125.6" y="419.7"/><use href="#d" x="268.4" y="309.5"/><use href="#d" x="215.1" y="338.9"/><use href="#d" x="212.2" y="347.4"/><use href="#d" x="518.8" y="125.0"/><use href="#d" x="372.5" y="234.2"/><use href="#d" x="263.2" y="315.1"/><use href="#d" x="389.7" y="219.6"/><use href="#d" x="410.1" y="191.9"/><use href="#d" x="263.7" y="306.4"/><use href="#d" x="116.0" y="425.3"/><use href="#d" x="112.7" y="427.9"/><use href="#d" x="520.0" y="124.9"/><use href="#d" x="153.1" y="399.2"/><use href="#d" x="283.5" y="298.8"/><use href="#d" x="141.6" y="414.4"/><use href="#d" x="242.5" y="324.7"/><use href="#d" x="148.1" y="414.5"/><use href="#d" x="137.7" y="412.3"/><use href="#d" x="308.6" y="286.1"/><use href="#d" x="463.2" y="151.7"/><use href="#d" x="259.6" y="307.8"/><use href="#d" x="417.7" y="183.2"/><use href="#d" x="202.5" y="361.5"/><use href="#d" x="486.4" y="136.2"/><use href="#d" x="145.8" y="405.2"/><use href="#d" x="259.0" y="311.9"/><use href="#d" x="167.0" y="392.9"/><use href="#d" x="360.1" y="226.5"/><use href="#d" x="424.1" y="185.0"/><use href="#d" x="280.1" y="298.5"/><use href="#d" x="114.7" y="424.9"/><use href="#d" x="477.2" y="135.4"/><use href="#d" x="377.5" y="225.1"/><use href="#d" x="420.9" y="181.9"/><use href="#d" x="264.1" y="300.6"/><use href="#d" x="201.1" y="361.2"/><use href="#d" x="172.3" y="397.2"/><use href="#d" x="515.8" y="120.3"/><use href="#d" x="518.8" y="123.8"/><use href="#d" x="243.5" y="328.9"/><use href="#d" x="533.9" y="120.1"/><use href="#d" x="221.8" y="331.2"/><use href="#d" x="302.3" y="271.7"/><use href="#d" x="197.5" y="359.8"/><use href="#d" x="127.1" y="427.5"/><use href="#d" x="342.3" y="252.4"/><use href="#d" x="182.1" y="370.6"/><use href="#d" x="359.8" y="243.7"/><use href="#d" x="240.7" y="327.2"/><use href="#d" x="196.9" y="365.3"/><use href="#d" x="460.2" y="159.4"/><use href="#d" x="494.1" y="126.0"/><use href="#d" x="462.8" y="164.1"/><use href="#d" x="497.7" y="134.5"/><use href="#d" x="240.1" y="324.6"/><use href="#d" x="430.3" y="174.8"/><use href="#d" x="335.1" y="265.5"/><use href="#d" x="270.4" y="300.9"/><use href="#d" x="147.5" y="415.1"/><use href="#d" x="298.2" y="280.7"/><use href="#d" x="162.3" y="391.6"/><use href="#d" x="243.7" y="329.4"/><use href="#d" x="517.0" y="124.2"/><use href="#d" x="496.4" y="130.6"/><use href="#d" x="485.7" y="128.1"/><use href="#d" x="275.4" y="292.2"/><use href="#d" x="273.2" y="304.3"/><use href="#d" x="286.3" y="286.1"/><use href="#d" x="436.4" y="181.2"/><use href="#d" x="140.9" y="406.2"/><use href="#d" x="240.2" y="318.6"/><use href="#d" x="276.7" y="290.8"/><use href="#d" x="319.8" y="258.0"/><use href="#d" x="173.0" y="370.4"/><use href="#d" x="181.9" y="387.4"/><use href="#d" x="475.1" y="141.9"/><use href="#d" x="511.7" y="120.7"/><use href="#d" x="448.7" y="167.4"/><use href="#d" x="334.3" y="261.6"/><use href="#d" x="379.1" y="225.8"/><use href="#d" x="400.3" y="203.4"/><use href="#d" x="275.2" y="307.5"/><use href="#d" x="150.0" y="396.8"/><use href="#d" x="515.2" y="125.8"/><use href="#d" x="236.4" y="327.9"/><use href="#d" x="464.2" y="147.1"/><use href="#d" x="540.5" y="123.8"/><use href="#d" x="544.6" y="121.4"/><use href="#d" x="547.9" y="119.7"/><use href="#d" x="551.1" y="120.6"/><use href="#d" x="554.3" y="119.7"/><use href="#d" x="551.9" y="117.3"/><use href="#d" x="548.7" y="123.8"/><use href="#d" x="538.1" y="127.5"/><use href="#d" x="542.5" y="125.5"/></g>
<g><use href="#d" x="119.5" y="403.0"/><use href="#d" x="124.5" y="397.5"/><use href="#d" x="135.5" y="378.6"/><use href="#d" x="143.0" y="372.0"/><use href="#d" x="168.2" y="357.4"/><use href="#d" x="173.9" y="342.0"/><use href="#d" x="178.8" y="334.7"/><use href="#d" x="182.8" y="336.4"/><use href="#d" x="191.0" y="338.0"/><use href="#d" x="193.4" y="331.5"/><use href="#d" x="198.3" y="325.0"/><use href="#d" x="201.5" y="313.7"/><use href="#d" x="205.6" y="325.8"/><use href="#d" x="209.6" y="329.9"/><use href="#d" x="218.5" y="300.7"/><use href="#d" x="225.0" y="310.4"/><use href="#d" x="227.5" y="311.2"/><use href="#d" x="238.0" y="303.1"/><use href="#d" x="241.2" y="301.5"/><use href="#d" x="175.5" y="409.0"/><use href="#d" x="182.8" y="396.0"/><use href="#d" x="213.0" y="272.0"/><use href="#d" x="236.6" y="291.9"/><use href="#d" x="240.7" y="303.3"/><use href="#d" x="291.0" y="229.5"/><use href="#d" x="306.3" y="231.0"/><use href="#d" x="277.5" y="261.1"/><use href="#d" x="296.6" y="258.7"/><use href="#d" x="327.0" y="243.6"/><use href="#d" x="399.3" y="231.2"/><use href="#d" x="377.5" y="245.0"/><use href="#d" x="297.4" y="311.5"/><use href="#d" x="418.8" y="153.6"/><use href="#d" x="435.0" y="157.5"/><use href="#d" x="428.5" y="161.5"/><use href="#d" x="471.0" y="120.6"/><use href="#d" x="573.0" y="144.9"/><use href="#d" x="568.7" y="169.2"/><use href="#d" x="544.7" y="164.3"/><use href="#d" x="482.3" y="175.3"/><use href="#d" x="476.6" y="170.4"/><use href="#d" x="457.2" y="189.9"/><use href="#d" x="449.3" y="196.4"/><use href="#d" x="471.0" y="218.0"/><use href="#d" x="471.0" y="227.0"/><use href="#d" x="495.3" y="153.4"/><use href="#d" x="506.6" y="139.6"/><use href="#d" x="521.2" y="135.5"/><use href="#d" x="348.4" y="153.4"/><use href="#d" x="361.5" y="146.0"/><use href="#d" x="380.0" y="121.5"/><use href="#d" x="382.8" y="154.2"/><use href="#d" x="394.5" y="162.3"/><use href="#d" x="397.7" y="157.4"/></g>
<path d="M108.4 432.2L574.2 69.2" stroke="#111" stroke-width="1.5" fill="none"/>
<path d="M76.5 457.9v-6M76.5 6.1v6M76.5 457.9h6M656.4 457.9h-6M173.2 457.9v-6M173.2 6.1v6M76.5 382.6h6M656.4 382.6h-6M269.8 457.9v-6M269.8 6.1v6M76.5 307.3h6M656.4 307.3h-6M366.5 457.9v-6M366.5 6.1v6M76.5 232.0h6M656.4 232.0h-6M463.1 457.9v-6M463.1 6.1v6M76.5 156.7h6M656.4 156.7h-6M559.8 457.9v-6M559.8 6.1v6M76.5 81.4h6M656.4 81.4h-6M656.4 457.9v-6M656.4 6.1v6M76.5 6.1h6M656.4 6.1h-6" stroke="#262626" stroke-width="1" fill="none"/>
<rect x="76.5" y="6.1" width="579.9" height="451.79999999999995" fill="none" stroke="#262626" stroke-width="1.1"/>
<text x="76.5" y="480.5" font-size="17.2" text-anchor="middle">0.6</text>
<text x="67.0" y="464.1" font-size="17.2" text-anchor="end">0.6</text>
<text x="173.2" y="480.5" font-size="17.2" text-anchor="middle">0.8</text>
<text x="67.0" y="388.8" font-size="17.2" text-anchor="end">0.8</text>
<text x="269.8" y="480.5" font-size="17.2" text-anchor="middle">1</text>
<text x="67.0" y="313.5" font-size="17.2" text-anchor="end">1</text>
<text x="366.5" y="480.5" font-size="17.2" text-anchor="middle">1.2</text>
<text x="67.0" y="238.2" font-size="17.2" text-anchor="end">1.2</text>
<text x="463.1" y="480.5" font-size="17.2" text-anchor="middle">1.4</text>
<text x="67.0" y="162.9" font-size="17.2" text-anchor="end">1.4</text>
<text x="559.8" y="480.5" font-size="17.2" text-anchor="middle">1.6</text>
<text x="67.0" y="87.6" font-size="17.2" text-anchor="end">1.6</text>
<text x="656.4" y="480.5" font-size="17.2" text-anchor="middle">1.8</text>
<text x="67.0" y="12.3" font-size="17.2" text-anchor="end">1.8</text>
<text x="307.2" y="514.8" font-size="19.6">C<tspan x="322" font-size="14.4" dy="8.8">L</tspan><tspan x="337" dy="-8.8">measured</tspan></text>
<text transform="translate(14.7,287.2) rotate(-90)" font-size="19.6">C<tspan x="14.7" font-size="14.4" dy="9.3">L</tspan><tspan x="29.5" dy="-9.3">predicted</tspan></text>
<rect x="478.6" y="23.5" width="160.4" height="49" fill="#fff" stroke="#262626" stroke-width="1"/>
<use href="#s" x="503.2" y="37.5"/><use href="#d" x="503.4" y="58.9"/>
<text x="519" y="42.5" font-size="16">GPR predicted</text>
<text x="519" y="63.9" font-size="16">MLE Predicted</text>
</svg></body></html>
